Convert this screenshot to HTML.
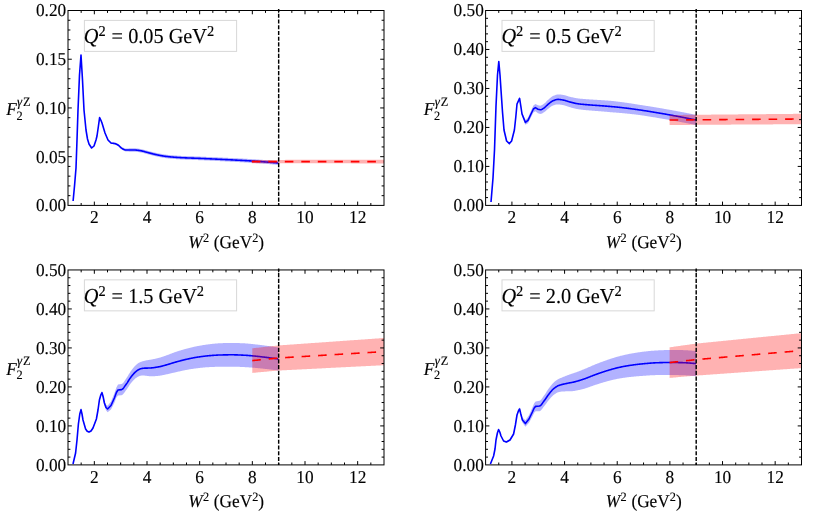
<!DOCTYPE html>
<html><head><meta charset="utf-8"><title>F2 gammaZ</title>
<style>html,body{margin:0;padding:0;background:#fff;}svg{display:block;}text{text-rendering:geometricPrecision;stroke:#000;stroke-width:0.14px;}.tx{filter:grayscale(1);}</style>
</head><body>
<svg width="830" height="517" viewBox="0 0 830 517" font-family="Liberation Serif, serif">
<rect width="830" height="517" fill="#fff"/>
<path d="M73.10,200.70 L74.60,184.68 L76.00,167.67 L77.00,139.66 L78.00,109.65 L79.50,74.63 L81.00,54.62 L82.50,79.60 L84.00,109.58 L85.00,119.57 L86.00,129.56 L87.50,138.54 L89.00,143.53 L91.60,147.50 L94.00,145.47 L96.00,139.45 L97.00,135.44 L98.30,126.43 L99.60,117.01 L100.80,119.40 L102.00,122.39 L105.00,132.35 L108.00,139.32 L111.00,142.25 L112.00,142.40 L112.50,142.44 L113.00,142.47 L113.50,142.49 L114.00,142.53 L114.50,142.57 L115.00,142.65 L115.50,142.77 L116.00,142.93 L116.50,143.14 L117.00,143.37 L117.50,143.63 L118.00,143.90 L118.50,144.22 L119.00,144.61 L119.50,145.06 L120.00,145.53 L120.50,145.99 L121.00,146.42 L121.50,146.80 L122.00,147.10 L122.50,147.35 L123.00,147.61 L123.50,147.85 L124.00,148.07 L124.50,148.26 L125.00,148.40 L125.50,148.49 L126.00,148.50 L126.50,148.47 L127.00,148.45 L127.50,148.43 L128.00,148.40 L128.50,148.38 L129.00,148.35 L129.50,148.32 L130.00,148.30 L130.50,148.30 L131.00,148.30 L131.50,148.30 L132.00,148.30 L132.50,148.30 L133.00,148.30 L133.50,148.30 L134.00,148.29 L134.50,148.30 L135.00,148.32 L135.50,148.35 L136.00,148.39 L136.50,148.43 L137.00,148.49 L137.50,148.55 L138.00,148.61 L138.50,148.68 L139.00,148.75 L139.50,148.82 L140.00,148.89 L140.50,148.96 L141.00,149.05 L141.50,149.15 L142.00,149.26 L142.50,149.38 L143.00,149.50 L143.50,149.63 L144.00,149.77 L144.50,149.91 L145.00,150.05 L145.50,150.20 L146.00,150.34 L146.50,150.48 L147.00,150.62 L147.50,150.75 L148.00,150.88 L148.50,151.00 L149.00,151.13 L149.50,151.26 L150.00,151.39 L150.50,151.52 L151.00,151.65 L151.50,151.78 L152.00,151.91 L152.50,152.04 L153.00,152.17 L153.50,152.29 L154.00,152.41 L154.50,152.53 L155.00,152.65 L155.50,152.76 L156.00,152.86 L156.50,152.97 L157.00,153.07 L157.50,153.18 L158.00,153.28 L158.50,153.38 L159.00,153.48 L159.50,153.58 L160.00,153.68 L160.50,153.78 L161.00,153.87 L161.50,153.97 L162.00,154.05 L162.50,154.14 L163.00,154.23 L163.50,154.31 L164.00,154.38 L164.50,154.46 L165.00,154.53 L165.50,154.59 L166.00,154.65 L166.50,154.71 L167.00,154.77 L167.50,154.82 L168.00,154.88 L168.50,154.93 L169.00,154.98 L169.50,155.03 L170.00,155.08 L170.50,155.13 L171.00,155.18 L171.50,155.22 L172.00,155.27 L172.50,155.31 L173.00,155.35 L173.50,155.39 L174.00,155.43 L174.50,155.47 L175.00,155.51 L175.50,155.55 L176.00,155.58 L176.50,155.62 L177.00,155.65 L177.50,155.68 L178.00,155.72 L178.50,155.75 L179.00,155.78 L179.50,155.80 L180.00,155.83 L180.50,155.86 L181.00,155.89 L181.50,155.91 L182.00,155.93 L182.50,155.96 L183.00,155.98 L183.50,156.00 L184.00,156.03 L184.50,156.05 L185.00,156.07 L185.50,156.09 L186.00,156.11 L186.50,156.13 L187.00,156.15 L187.50,156.16 L188.00,156.18 L188.50,156.20 L189.00,156.22 L189.50,156.23 L190.00,156.25 L190.50,156.27 L191.00,156.29 L191.50,156.30 L192.00,156.32 L192.50,156.34 L193.00,156.35 L193.50,156.37 L194.00,156.39 L194.50,156.40 L195.00,156.42 L195.50,156.44 L196.00,156.45 L196.50,156.47 L197.00,156.49 L197.50,156.51 L198.00,156.53 L198.50,156.55 L199.00,156.57 L199.50,156.59 L200.00,156.61 L200.50,156.63 L201.00,156.65 L201.50,156.67 L202.00,156.69 L202.50,156.71 L203.00,156.73 L203.50,156.75 L204.00,156.77 L204.50,156.79 L205.00,156.82 L205.50,156.84 L206.00,156.86 L206.50,156.88 L207.00,156.90 L207.50,156.92 L208.00,156.94 L208.50,156.97 L209.00,156.99 L209.50,157.01 L210.00,157.03 L210.50,157.05 L211.00,157.08 L211.50,157.10 L212.00,157.12 L212.50,157.14 L213.00,157.17 L213.50,157.19 L214.00,157.21 L214.50,157.23 L215.00,157.26 L215.50,157.28 L216.00,157.30 L216.50,157.32 L217.00,157.35 L217.50,157.37 L218.00,157.39 L218.50,157.42 L219.00,157.44 L219.50,157.46 L220.00,157.49 L220.50,157.51 L221.00,157.53 L221.50,157.56 L222.00,157.58 L222.50,157.60 L223.00,157.63 L223.50,157.65 L224.00,157.67 L224.50,157.70 L225.00,157.72 L225.50,157.75 L226.00,157.77 L226.50,157.79 L227.00,157.82 L227.50,157.84 L228.00,157.87 L228.50,157.89 L229.00,157.92 L229.50,157.94 L230.00,157.96 L230.50,157.99 L231.00,158.01 L231.50,158.04 L232.00,158.06 L232.50,158.09 L233.00,158.11 L233.50,158.13 L234.00,158.16 L234.50,158.18 L235.00,158.21 L235.50,158.23 L236.00,158.26 L236.50,158.28 L237.00,158.31 L237.50,158.33 L238.00,158.36 L238.50,158.38 L239.00,158.41 L239.50,158.44 L240.00,158.46 L240.50,158.49 L241.00,158.51 L241.50,158.54 L242.00,158.57 L242.50,158.59 L243.00,158.62 L243.50,158.65 L244.00,158.67 L244.50,158.70 L245.00,158.73 L245.50,158.76 L246.00,158.78 L246.50,158.81 L247.00,158.84 L247.50,158.87 L248.00,158.90 L248.50,158.93 L249.00,158.96 L249.50,158.98 L250.00,159.01 L250.50,159.04 L251.00,159.07 L251.50,159.10 L252.00,159.14 L252.50,159.17 L253.00,159.20 L253.50,159.23 L254.00,159.26 L254.50,159.29 L255.00,159.33 L255.50,159.36 L256.00,159.39 L256.50,159.42 L257.00,159.46 L257.50,159.49 L258.00,159.53 L258.50,159.56 L259.00,159.59 L259.50,159.63 L260.00,159.66 L260.50,159.70 L261.00,159.73 L261.50,159.77 L262.00,159.81 L262.50,159.84 L263.00,159.88 L263.50,159.92 L264.00,159.95 L264.50,159.99 L265.00,160.03 L265.50,160.06 L266.00,160.10 L266.50,160.14 L267.00,160.18 L267.50,160.22 L268.00,160.26 L268.50,160.30 L269.00,160.33 L269.50,160.37 L270.00,160.41 L270.50,160.45 L271.00,160.49 L271.50,160.53 L272.00,160.57 L272.50,160.61 L273.00,160.66 L273.50,160.70 L274.00,160.74 L274.50,160.78 L275.00,160.82 L275.50,160.86 L276.00,160.90 L276.50,160.95 L277.00,160.99 L277.50,161.03 L278.00,161.07 L278.30,161.10 L278.30,164.90 L278.00,164.87 L277.50,164.83 L277.00,164.79 L276.50,164.74 L276.00,164.70 L275.50,164.65 L275.00,164.61 L274.50,164.57 L274.00,164.53 L273.50,164.48 L273.00,164.44 L272.50,164.40 L272.00,164.36 L271.50,164.32 L271.00,164.27 L270.50,164.23 L270.00,164.19 L269.50,164.15 L269.00,164.11 L268.50,164.07 L268.00,164.03 L267.50,163.99 L267.00,163.95 L266.50,163.91 L266.00,163.87 L265.50,163.83 L265.00,163.79 L264.50,163.75 L264.00,163.71 L263.50,163.68 L263.00,163.64 L262.50,163.60 L262.00,163.56 L261.50,163.52 L261.00,163.49 L260.50,163.45 L260.00,163.41 L259.50,163.38 L259.00,163.34 L258.50,163.31 L258.00,163.27 L257.50,163.24 L257.00,163.20 L256.50,163.17 L256.00,163.13 L255.50,163.10 L255.00,163.06 L254.50,163.03 L254.00,163.00 L253.50,162.96 L253.00,162.93 L252.50,162.90 L252.00,162.86 L251.50,162.83 L251.00,162.80 L250.50,162.77 L250.00,162.74 L249.50,162.71 L249.00,162.68 L248.50,162.65 L248.00,162.62 L247.50,162.59 L247.00,162.56 L246.50,162.53 L246.00,162.50 L245.50,162.47 L245.00,162.44 L244.50,162.41 L244.00,162.38 L243.50,162.35 L243.00,162.32 L242.50,162.30 L242.00,162.27 L241.50,162.24 L241.00,162.21 L240.50,162.19 L240.00,162.16 L239.50,162.13 L239.00,162.10 L238.50,162.08 L238.00,162.05 L237.50,162.02 L237.00,162.00 L236.50,161.97 L236.00,161.94 L235.50,161.92 L235.00,161.89 L234.50,161.87 L234.00,161.84 L233.50,161.81 L233.00,161.79 L232.50,161.76 L232.00,161.74 L231.50,161.71 L231.00,161.68 L230.50,161.66 L230.00,161.63 L229.50,161.61 L229.00,161.58 L228.50,161.56 L228.00,161.53 L227.50,161.51 L227.00,161.48 L226.50,161.45 L226.00,161.43 L225.50,161.40 L225.00,161.38 L224.50,161.35 L224.00,161.33 L223.50,161.30 L223.00,161.28 L222.50,161.25 L222.00,161.23 L221.50,161.20 L221.00,161.18 L220.50,161.15 L220.00,161.13 L219.50,161.10 L219.00,161.08 L218.50,161.05 L218.00,161.03 L217.50,161.01 L217.00,160.98 L216.50,160.96 L216.00,160.93 L215.50,160.91 L215.00,160.88 L214.50,160.86 L214.00,160.84 L213.50,160.81 L213.00,160.79 L212.50,160.77 L212.00,160.74 L211.50,160.72 L211.00,160.69 L210.50,160.67 L210.00,160.65 L209.50,160.62 L209.00,160.60 L208.50,160.58 L208.00,160.56 L207.50,160.53 L207.00,160.51 L206.50,160.49 L206.00,160.46 L205.50,160.44 L205.00,160.42 L204.50,160.40 L204.00,160.37 L203.50,160.35 L203.00,160.33 L202.50,160.31 L202.00,160.28 L201.50,160.26 L201.00,160.24 L200.50,160.22 L200.00,160.19 L199.50,160.17 L199.00,160.15 L198.50,160.13 L198.00,160.11 L197.50,160.09 L197.00,160.07 L196.50,160.05 L196.00,160.03 L195.50,160.01 L195.00,159.99 L194.50,159.98 L194.00,159.96 L193.50,159.94 L193.00,159.92 L192.50,159.90 L192.00,159.89 L191.50,159.87 L191.00,159.85 L190.50,159.83 L190.00,159.81 L189.50,159.79 L189.00,159.78 L188.50,159.76 L188.00,159.74 L187.50,159.72 L187.00,159.70 L186.50,159.68 L186.00,159.66 L185.50,159.64 L185.00,159.62 L184.50,159.59 L184.00,159.57 L183.50,159.55 L183.00,159.52 L182.50,159.50 L182.00,159.48 L181.50,159.45 L181.00,159.42 L180.50,159.40 L180.00,159.37 L179.50,159.34 L179.00,159.31 L178.50,159.28 L178.00,159.25 L177.50,159.21 L177.00,159.18 L176.50,159.14 L176.00,159.11 L175.50,159.07 L175.00,159.03 L174.50,158.99 L174.00,158.95 L173.50,158.91 L173.00,158.87 L172.50,158.82 L172.00,158.78 L171.50,158.73 L171.00,158.69 L170.50,158.64 L170.00,158.59 L169.50,158.54 L169.00,158.49 L168.50,158.43 L168.00,158.38 L167.50,158.32 L167.00,158.27 L166.50,158.21 L166.00,158.15 L165.50,158.09 L165.00,158.02 L164.50,157.95 L164.00,157.87 L163.50,157.80 L163.00,157.71 L162.50,157.63 L162.00,157.54 L161.50,157.45 L161.00,157.36 L160.50,157.26 L160.00,157.16 L159.50,157.06 L159.00,156.96 L158.50,156.86 L158.00,156.76 L157.50,156.65 L157.00,156.55 L156.50,156.44 L156.00,156.34 L155.50,156.23 L155.00,156.11 L154.50,156.00 L154.00,155.88 L153.50,155.75 L153.00,155.63 L152.50,155.50 L152.00,155.37 L151.50,155.24 L151.00,155.11 L150.50,154.97 L150.00,154.84 L149.50,154.71 L149.00,154.58 L148.50,154.45 L148.00,154.32 L147.50,154.20 L147.00,154.06 L146.50,153.92 L146.00,153.78 L145.50,153.64 L145.00,153.49 L144.50,153.35 L144.00,153.21 L143.50,153.07 L143.00,152.94 L142.50,152.81 L142.00,152.69 L141.50,152.58 L141.00,152.48 L140.50,152.39 L140.00,152.31 L139.50,152.24 L139.00,152.17 L138.50,152.10 L138.00,152.03 L137.50,151.97 L137.00,151.90 L136.50,151.85 L136.00,151.80 L135.50,151.76 L135.00,151.73 L134.50,151.71 L134.00,151.71 L133.50,151.70 L133.00,151.70 L132.50,151.70 L132.00,151.70 L131.50,151.70 L131.00,151.70 L130.50,151.70 L130.00,151.70 L129.50,151.68 L129.00,151.65 L128.50,151.62 L128.00,151.60 L127.50,151.57 L127.00,151.55 L126.50,151.53 L126.00,151.50 L125.50,151.44 L125.00,151.30 L124.50,151.11 L124.00,150.87 L123.50,150.60 L123.00,150.31 L122.50,150.00 L122.00,149.70 L121.50,149.35 L121.00,148.92 L120.50,148.44 L120.00,147.93 L119.50,147.41 L119.00,146.91 L118.50,146.47 L118.00,146.10 L117.50,145.78 L117.00,145.47 L116.50,145.19 L116.00,144.93 L115.50,144.72 L115.00,144.55 L114.50,144.42 L114.00,144.33 L113.50,144.24 L113.00,144.17 L112.50,144.09 L112.00,144.00 L111.00,143.75 L108.00,140.68 L105.00,133.65 L102.00,123.61 L100.80,120.60 L99.60,118.19 L98.30,127.57 L97.00,136.56 L96.00,140.55 L94.00,146.53 L91.60,148.50 L89.00,144.47 L87.50,139.46 L86.00,130.44 L85.00,120.43 L84.00,110.42 L82.50,80.40 L81.00,55.38 L79.50,75.37 L78.00,110.35 L77.00,140.34 L76.00,168.33 L74.60,185.32 L73.10,201.30Z" fill="#0000ff" fill-opacity="0.3"/>
<path d="M73.10,201.00 L74.60,185.00 L76.00,168.00 L77.00,140.00 L78.00,110.00 L79.50,75.00 L81.00,55.00 L82.50,80.00 L84.00,110.00 L85.00,120.00 L86.00,130.00 L87.50,139.00 L89.00,144.00 L91.60,148.00 L94.00,146.00 L96.00,140.00 L97.00,136.00 L98.30,127.00 L99.60,117.60 L100.80,120.00 L102.00,123.00 L105.00,133.00 L108.00,140.00 L111.00,143.00 L112.00,143.20 L112.50,143.27 L113.00,143.32 L113.50,143.37 L114.00,143.43 L114.50,143.50 L115.00,143.60 L115.50,143.74 L116.00,143.93 L116.50,144.16 L117.00,144.42 L117.50,144.71 L118.00,145.00 L118.50,145.34 L119.00,145.76 L119.50,146.23 L120.00,146.73 L120.50,147.21 L121.00,147.67 L121.50,148.08 L122.00,148.40 L122.50,148.68 L123.00,148.96 L123.50,149.22 L124.00,149.47 L124.50,149.68 L125.00,149.85 L125.50,149.96 L126.00,150.00 L126.50,150.00 L127.00,150.00 L127.50,150.00 L128.00,150.00 L128.50,150.00 L129.00,150.00 L129.50,150.00 L130.00,150.00 L130.50,150.00 L131.00,150.00 L131.50,150.00 L132.00,150.00 L132.50,150.00 L133.00,150.00 L133.50,150.00 L134.00,150.00 L134.50,150.01 L135.00,150.03 L135.50,150.05 L136.00,150.09 L136.50,150.14 L137.00,150.20 L137.50,150.26 L138.00,150.32 L138.50,150.39 L139.00,150.46 L139.50,150.53 L140.00,150.60 L140.50,150.68 L141.00,150.77 L141.50,150.87 L142.00,150.98 L142.50,151.10 L143.00,151.22 L143.50,151.35 L144.00,151.49 L144.50,151.63 L145.00,151.77 L145.50,151.92 L146.00,152.06 L146.50,152.20 L147.00,152.34 L147.50,152.47 L148.00,152.60 L148.50,152.73 L149.00,152.85 L149.50,152.98 L150.00,153.11 L150.50,153.25 L151.00,153.38 L151.50,153.51 L152.00,153.64 L152.50,153.77 L153.00,153.90 L153.50,154.02 L154.00,154.14 L154.50,154.26 L155.00,154.38 L155.50,154.49 L156.00,154.60 L156.50,154.71 L157.00,154.81 L157.50,154.91 L158.00,155.02 L158.50,155.12 L159.00,155.22 L159.50,155.32 L160.00,155.42 L160.50,155.52 L161.00,155.62 L161.50,155.71 L162.00,155.80 L162.50,155.89 L163.00,155.97 L163.50,156.05 L164.00,156.13 L164.50,156.20 L165.00,156.27 L165.50,156.34 L166.00,156.40 L166.50,156.46 L167.00,156.52 L167.50,156.57 L168.00,156.63 L168.50,156.68 L169.00,156.73 L169.50,156.78 L170.00,156.83 L170.50,156.88 L171.00,156.93 L171.50,156.98 L172.00,157.02 L172.50,157.07 L173.00,157.11 L173.50,157.15 L174.00,157.19 L174.50,157.23 L175.00,157.27 L175.50,157.31 L176.00,157.35 L176.50,157.38 L177.00,157.41 L177.50,157.45 L178.00,157.48 L178.50,157.51 L179.00,157.54 L179.50,157.57 L180.00,157.60 L180.50,157.63 L181.00,157.65 L181.50,157.68 L182.00,157.71 L182.50,157.73 L183.00,157.75 L183.50,157.78 L184.00,157.80 L184.50,157.82 L185.00,157.84 L185.50,157.86 L186.00,157.88 L186.50,157.90 L187.00,157.92 L187.50,157.94 L188.00,157.96 L188.50,157.98 L189.00,158.00 L189.50,158.01 L190.00,158.03 L190.50,158.05 L191.00,158.07 L191.50,158.09 L192.00,158.10 L192.50,158.12 L193.00,158.14 L193.50,158.15 L194.00,158.17 L194.50,158.19 L195.00,158.21 L195.50,158.22 L196.00,158.24 L196.50,158.26 L197.00,158.28 L197.50,158.30 L198.00,158.32 L198.50,158.34 L199.00,158.36 L199.50,158.38 L200.00,158.40 L200.50,158.42 L201.00,158.44 L201.50,158.46 L202.00,158.49 L202.50,158.51 L203.00,158.53 L203.50,158.55 L204.00,158.57 L204.50,158.59 L205.00,158.62 L205.50,158.64 L206.00,158.66 L206.50,158.68 L207.00,158.71 L207.50,158.73 L208.00,158.75 L208.50,158.77 L209.00,158.79 L209.50,158.82 L210.00,158.84 L210.50,158.86 L211.00,158.89 L211.50,158.91 L212.00,158.93 L212.50,158.95 L213.00,158.98 L213.50,159.00 L214.00,159.02 L214.50,159.05 L215.00,159.07 L215.50,159.09 L216.00,159.12 L216.50,159.14 L217.00,159.16 L217.50,159.19 L218.00,159.21 L218.50,159.24 L219.00,159.26 L219.50,159.28 L220.00,159.31 L220.50,159.33 L221.00,159.35 L221.50,159.38 L222.00,159.40 L222.50,159.43 L223.00,159.45 L223.50,159.48 L224.00,159.50 L224.50,159.53 L225.00,159.55 L225.50,159.58 L226.00,159.60 L226.50,159.62 L227.00,159.65 L227.50,159.67 L228.00,159.70 L228.50,159.72 L229.00,159.75 L229.50,159.77 L230.00,159.80 L230.50,159.82 L231.00,159.85 L231.50,159.87 L232.00,159.90 L232.50,159.92 L233.00,159.95 L233.50,159.97 L234.00,160.00 L234.50,160.02 L235.00,160.05 L235.50,160.08 L236.00,160.10 L236.50,160.13 L237.00,160.15 L237.50,160.18 L238.00,160.20 L238.50,160.23 L239.00,160.26 L239.50,160.28 L240.00,160.31 L240.50,160.34 L241.00,160.36 L241.50,160.39 L242.00,160.42 L242.50,160.44 L243.00,160.47 L243.50,160.50 L244.00,160.53 L244.50,160.55 L245.00,160.58 L245.50,160.61 L246.00,160.64 L246.50,160.67 L247.00,160.70 L247.50,160.73 L248.00,160.76 L248.50,160.79 L249.00,160.82 L249.50,160.85 L250.00,160.88 L250.50,160.91 L251.00,160.94 L251.50,160.97 L252.00,161.00 L252.50,161.03 L253.00,161.06 L253.50,161.10 L254.00,161.13 L254.50,161.16 L255.00,161.19 L255.50,161.23 L256.00,161.26 L256.50,161.29 L257.00,161.33 L257.50,161.36 L258.00,161.40 L258.50,161.43 L259.00,161.47 L259.50,161.50 L260.00,161.54 L260.50,161.57 L261.00,161.61 L261.50,161.65 L262.00,161.68 L262.50,161.72 L263.00,161.76 L263.50,161.80 L264.00,161.83 L264.50,161.87 L265.00,161.91 L265.50,161.95 L266.00,161.99 L266.50,162.02 L267.00,162.06 L267.50,162.10 L268.00,162.14 L268.50,162.18 L269.00,162.22 L269.50,162.26 L270.00,162.30 L270.50,162.34 L271.00,162.38 L271.50,162.42 L272.00,162.47 L272.50,162.51 L273.00,162.55 L273.50,162.59 L274.00,162.63 L274.50,162.67 L275.00,162.72 L275.50,162.76 L276.00,162.80 L276.50,162.84 L277.00,162.89 L277.50,162.93 L278.00,162.97 L278.30,163.00" fill="none" stroke="#0000ff" stroke-width="1.6" stroke-linejoin="round" stroke-linecap="butt"/>
<path d="M251.80,159.90 L252.80,159.90 L253.80,159.90 L254.80,159.90 L255.80,159.90 L256.80,159.90 L257.80,159.90 L258.80,159.89 L259.80,159.89 L260.80,159.89 L261.80,159.89 L262.80,159.89 L263.80,159.89 L264.80,159.89 L265.80,159.89 L266.80,159.89 L267.80,159.89 L268.80,159.89 L269.80,159.89 L270.80,159.89 L271.80,159.88 L272.80,159.88 L273.80,159.88 L274.80,159.88 L275.80,159.88 L276.80,159.88 L277.80,159.88 L278.80,159.88 L279.80,159.88 L280.80,159.88 L281.80,159.88 L282.80,159.88 L283.80,159.88 L284.80,159.88 L285.80,159.87 L286.80,159.87 L287.80,159.87 L288.80,159.87 L289.80,159.87 L290.80,159.87 L291.80,159.87 L292.80,159.87 L293.80,159.87 L294.80,159.87 L295.80,159.87 L296.80,159.87 L297.80,159.87 L298.80,159.86 L299.80,159.86 L300.80,159.86 L301.80,159.86 L302.80,159.86 L303.80,159.86 L304.80,159.86 L305.80,159.86 L306.80,159.86 L307.80,159.86 L308.80,159.86 L309.80,159.86 L310.80,159.86 L311.80,159.85 L312.80,159.85 L313.80,159.85 L314.80,159.85 L315.80,159.85 L316.80,159.85 L317.80,159.85 L318.80,159.85 L319.80,159.85 L320.80,159.85 L321.80,159.85 L322.80,159.85 L323.80,159.85 L324.80,159.84 L325.80,159.84 L326.80,159.84 L327.80,159.84 L328.80,159.84 L329.80,159.84 L330.80,159.84 L331.80,159.84 L332.80,159.84 L333.80,159.84 L334.80,159.84 L335.80,159.84 L336.80,159.84 L337.80,159.83 L338.80,159.83 L339.80,159.83 L340.80,159.83 L341.80,159.83 L342.80,159.83 L343.80,159.83 L344.80,159.83 L345.80,159.83 L346.80,159.83 L347.80,159.83 L348.80,159.83 L349.80,159.83 L350.80,159.83 L351.80,159.82 L352.80,159.82 L353.80,159.82 L354.80,159.82 L355.80,159.82 L356.80,159.82 L357.80,159.82 L358.80,159.82 L359.80,159.82 L360.80,159.82 L361.80,159.82 L362.80,159.82 L363.80,159.82 L364.80,159.81 L365.80,159.81 L366.80,159.81 L367.80,159.81 L368.80,159.81 L369.80,159.81 L370.80,159.81 L371.80,159.81 L372.80,159.81 L373.80,159.81 L374.80,159.81 L375.80,159.81 L376.80,159.81 L377.80,159.80 L378.80,159.80 L379.80,159.80 L380.80,159.80 L381.80,159.80 L382.80,159.80 L383.80,159.80 L384.00,159.80 L384.00,163.40 L383.80,163.40 L382.80,163.40 L381.80,163.40 L380.80,163.40 L379.80,163.40 L378.80,163.40 L377.80,163.40 L376.80,163.39 L375.80,163.39 L374.80,163.39 L373.80,163.39 L372.80,163.39 L371.80,163.39 L370.80,163.39 L369.80,163.39 L368.80,163.39 L367.80,163.39 L366.80,163.39 L365.80,163.39 L364.80,163.39 L363.80,163.38 L362.80,163.38 L361.80,163.38 L360.80,163.38 L359.80,163.38 L358.80,163.38 L357.80,163.38 L356.80,163.38 L355.80,163.38 L354.80,163.38 L353.80,163.38 L352.80,163.38 L351.80,163.38 L350.80,163.37 L349.80,163.37 L348.80,163.37 L347.80,163.37 L346.80,163.37 L345.80,163.37 L344.80,163.37 L343.80,163.37 L342.80,163.37 L341.80,163.37 L340.80,163.37 L339.80,163.37 L338.80,163.37 L337.80,163.37 L336.80,163.36 L335.80,163.36 L334.80,163.36 L333.80,163.36 L332.80,163.36 L331.80,163.36 L330.80,163.36 L329.80,163.36 L328.80,163.36 L327.80,163.36 L326.80,163.36 L325.80,163.36 L324.80,163.36 L323.80,163.35 L322.80,163.35 L321.80,163.35 L320.80,163.35 L319.80,163.35 L318.80,163.35 L317.80,163.35 L316.80,163.35 L315.80,163.35 L314.80,163.35 L313.80,163.35 L312.80,163.35 L311.80,163.35 L310.80,163.34 L309.80,163.34 L308.80,163.34 L307.80,163.34 L306.80,163.34 L305.80,163.34 L304.80,163.34 L303.80,163.34 L302.80,163.34 L301.80,163.34 L300.80,163.34 L299.80,163.34 L298.80,163.34 L297.80,163.33 L296.80,163.33 L295.80,163.33 L294.80,163.33 L293.80,163.33 L292.80,163.33 L291.80,163.33 L290.80,163.33 L289.80,163.33 L288.80,163.33 L287.80,163.33 L286.80,163.33 L285.80,163.33 L284.80,163.32 L283.80,163.32 L282.80,163.32 L281.80,163.32 L280.80,163.32 L279.80,163.32 L278.80,163.32 L277.80,163.32 L276.80,163.32 L275.80,163.32 L274.80,163.32 L273.80,163.32 L272.80,163.32 L271.80,163.32 L270.80,163.31 L269.80,163.31 L268.80,163.31 L267.80,163.31 L266.80,163.31 L265.80,163.31 L264.80,163.31 L263.80,163.31 L262.80,163.31 L261.80,163.31 L260.80,163.31 L259.80,163.31 L258.80,163.31 L257.80,163.30 L256.80,163.30 L255.80,163.30 L254.80,163.30 L253.80,163.30 L252.80,163.30 L251.80,163.30Z" fill="#ff0000" fill-opacity="0.3"/>
<path d="M251.80,161.60 L252.80,161.60 L253.80,161.60 L254.80,161.60 L255.80,161.60 L256.80,161.60 L257.80,161.60 L258.80,161.60 L259.80,161.60 L260.80,161.60 L261.80,161.60 L262.80,161.60 L263.80,161.60 L264.80,161.60 L265.80,161.60 L266.80,161.60 L267.80,161.60 L268.80,161.60 L269.80,161.60 L270.80,161.60 L271.80,161.60 L272.80,161.60 L273.80,161.60 L274.80,161.60 L275.80,161.60 L276.80,161.60 L277.80,161.60 L278.80,161.60 L279.80,161.60 L280.80,161.60 L281.80,161.60 L282.80,161.60 L283.80,161.60 L284.80,161.60 L285.80,161.60 L286.80,161.60 L287.80,161.60 L288.80,161.60 L289.80,161.60 L290.80,161.60 L291.80,161.60 L292.80,161.60 L293.80,161.60 L294.80,161.60 L295.80,161.60 L296.80,161.60 L297.80,161.60 L298.80,161.60 L299.80,161.60 L300.80,161.60 L301.80,161.60 L302.80,161.60 L303.80,161.60 L304.80,161.60 L305.80,161.60 L306.80,161.60 L307.80,161.60 L308.80,161.60 L309.80,161.60 L310.80,161.60 L311.80,161.60 L312.80,161.60 L313.80,161.60 L314.80,161.60 L315.80,161.60 L316.80,161.60 L317.80,161.60 L318.80,161.60 L319.80,161.60 L320.80,161.60 L321.80,161.60 L322.80,161.60 L323.80,161.60 L324.80,161.60 L325.80,161.60 L326.80,161.60 L327.80,161.60 L328.80,161.60 L329.80,161.60 L330.80,161.60 L331.80,161.60 L332.80,161.60 L333.80,161.60 L334.80,161.60 L335.80,161.60 L336.80,161.60 L337.80,161.60 L338.80,161.60 L339.80,161.60 L340.80,161.60 L341.80,161.60 L342.80,161.60 L343.80,161.60 L344.80,161.60 L345.80,161.60 L346.80,161.60 L347.80,161.60 L348.80,161.60 L349.80,161.60 L350.80,161.60 L351.80,161.60 L352.80,161.60 L353.80,161.60 L354.80,161.60 L355.80,161.60 L356.80,161.60 L357.80,161.60 L358.80,161.60 L359.80,161.60 L360.80,161.60 L361.80,161.60 L362.80,161.60 L363.80,161.60 L364.80,161.60 L365.80,161.60 L366.80,161.60 L367.80,161.60 L368.80,161.60 L369.80,161.60 L370.80,161.60 L371.80,161.60 L372.80,161.60 L373.80,161.60 L374.80,161.60 L375.80,161.60 L376.80,161.60 L377.80,161.60 L378.80,161.60 L379.80,161.60 L380.80,161.60 L381.80,161.60 L382.80,161.60 L383.80,161.60 L384.00,161.60" fill="none" stroke="#ff0000" stroke-width="1.6" stroke-dasharray="8.6,7.9"/>
<line x1="278.67" y1="9.10" x2="278.67" y2="205.4" stroke="#000" stroke-width="1.45" stroke-dasharray="4.15,1.595" stroke-dashoffset="1.2"/>
<path d="M81.17,205.4v-2.4 M81.17,10.5v2.4 M94.33,205.4v-3.8 M94.33,10.5v3.8 M107.50,205.4v-2.4 M107.50,10.5v2.4 M120.67,205.4v-2.4 M120.67,10.5v2.4 M133.83,205.4v-2.4 M133.83,10.5v2.4 M147.00,205.4v-3.8 M147.00,10.5v3.8 M160.17,205.4v-2.4 M160.17,10.5v2.4 M173.33,205.4v-2.4 M173.33,10.5v2.4 M186.50,205.4v-2.4 M186.50,10.5v2.4 M199.67,205.4v-3.8 M199.67,10.5v3.8 M212.83,205.4v-2.4 M212.83,10.5v2.4 M226.00,205.4v-2.4 M226.00,10.5v2.4 M239.17,205.4v-2.4 M239.17,10.5v2.4 M252.33,205.4v-3.8 M252.33,10.5v3.8 M265.50,205.4v-2.4 M265.50,10.5v2.4 M278.67,205.4v-2.4 M278.67,10.5v2.4 M291.83,205.4v-2.4 M291.83,10.5v2.4 M305.00,205.4v-3.8 M305.00,10.5v3.8 M318.17,205.4v-2.4 M318.17,10.5v2.4 M331.33,205.4v-2.4 M331.33,10.5v2.4 M344.50,205.4v-2.4 M344.50,10.5v2.4 M357.67,205.4v-3.8 M357.67,10.5v3.8 M370.83,205.4v-2.4 M370.83,10.5v2.4 M68.0,195.66h2.4 M384.0,195.66h-2.4 M68.0,185.91h2.4 M384.0,185.91h-2.4 M68.0,176.17h2.4 M384.0,176.17h-2.4 M68.0,166.42h2.4 M384.0,166.42h-2.4 M68.0,156.68h3.8 M384.0,156.68h-3.8 M68.0,146.93h2.4 M384.0,146.93h-2.4 M68.0,137.19h2.4 M384.0,137.19h-2.4 M68.0,127.44h2.4 M384.0,127.44h-2.4 M68.0,117.70h2.4 M384.0,117.70h-2.4 M68.0,107.95h3.8 M384.0,107.95h-3.8 M68.0,98.21h2.4 M384.0,98.21h-2.4 M68.0,88.46h2.4 M384.0,88.46h-2.4 M68.0,78.72h2.4 M384.0,78.72h-2.4 M68.0,68.97h2.4 M384.0,68.97h-2.4 M68.0,59.23h3.8 M384.0,59.23h-3.8 M68.0,49.48h2.4 M384.0,49.48h-2.4 M68.0,39.74h2.4 M384.0,39.74h-2.4 M68.0,29.99h2.4 M384.0,29.99h-2.4 M68.0,20.25h2.4 M384.0,20.25h-2.4" stroke="#000" stroke-width="1" fill="none"/>
<rect x="68.0" y="10.5" width="316.0" height="194.9" fill="none" stroke="#000" stroke-width="1"/>
<rect x="84.40" y="20.40" width="152.2" height="31.0" fill="#fff" stroke="#d8d8d8" stroke-width="1"/>
<path d="M491.00,201.70 L493.00,177.65 L494.50,149.61 L496.00,105.58 L497.50,74.54 L498.80,61.11 L500.00,74.47 L501.00,89.45 L502.50,111.41 L504.00,129.38 L506.60,140.31 L509.40,142.84 L511.60,140.19 L514.40,129.12 L515.80,115.98 L517.00,102.80 L519.60,96.81 L520.80,104.23 L522.00,112.05 L525.40,119.95 L528.00,117.63 L531.00,110.86 L533.40,105.57 L535.40,103.92 L538.00,105.20 L540.40,105.68 L541.00,105.57 L541.50,105.37 L542.00,105.10 L542.50,104.78 L543.00,104.42 L543.50,104.06 L544.00,103.70 L544.50,103.32 L545.00,102.88 L545.50,102.39 L546.00,101.88 L546.50,101.36 L547.00,100.84 L547.50,100.35 L548.00,99.90 L548.50,99.47 L549.00,99.03 L549.50,98.58 L550.00,98.15 L550.50,97.72 L551.00,97.32 L551.50,96.95 L552.00,96.60 L552.50,96.30 L553.00,96.05 L553.50,95.82 L554.00,95.60 L554.50,95.38 L555.00,95.17 L555.50,94.97 L556.00,94.80 L556.50,94.65 L557.00,94.53 L557.50,94.45 L558.00,94.40 L558.50,94.40 L559.00,94.42 L559.50,94.45 L560.00,94.49 L560.50,94.55 L561.00,94.61 L561.50,94.68 L562.00,94.76 L562.50,94.83 L563.00,94.91 L563.50,94.99 L564.00,95.09 L564.50,95.21 L565.00,95.33 L565.50,95.47 L566.00,95.62 L566.50,95.77 L567.00,95.92 L567.50,96.08 L568.00,96.23 L568.50,96.38 L569.00,96.52 L569.50,96.65 L570.00,96.78 L570.50,96.90 L571.00,97.01 L571.50,97.13 L572.00,97.25 L572.50,97.37 L573.00,97.49 L573.50,97.60 L574.00,97.72 L574.50,97.82 L575.00,97.93 L575.50,98.03 L576.00,98.12 L576.50,98.21 L577.00,98.29 L577.50,98.36 L578.00,98.43 L578.50,98.49 L579.00,98.55 L579.50,98.60 L580.00,98.65 L580.50,98.70 L581.00,98.74 L581.50,98.79 L582.00,98.83 L582.50,98.87 L583.00,98.91 L583.50,98.94 L584.00,98.98 L584.50,99.01 L585.00,99.05 L585.50,99.09 L586.00,99.13 L586.50,99.16 L587.00,99.20 L587.50,99.24 L588.00,99.28 L588.50,99.32 L589.00,99.35 L589.50,99.39 L590.00,99.42 L590.50,99.46 L591.00,99.49 L591.50,99.52 L592.00,99.55 L592.50,99.59 L593.00,99.62 L593.50,99.65 L594.00,99.68 L594.50,99.71 L595.00,99.74 L595.50,99.77 L596.00,99.79 L596.50,99.82 L597.00,99.85 L597.50,99.88 L598.00,99.91 L598.50,99.94 L599.00,99.98 L599.50,100.01 L600.00,100.04 L600.50,100.07 L601.00,100.10 L601.50,100.14 L602.00,100.17 L602.50,100.21 L603.00,100.25 L603.50,100.28 L604.00,100.32 L604.50,100.35 L605.00,100.39 L605.50,100.43 L606.00,100.46 L606.50,100.50 L607.00,100.54 L607.50,100.58 L608.00,100.61 L608.50,100.65 L609.00,100.69 L609.50,100.73 L610.00,100.77 L610.50,100.81 L611.00,100.85 L611.50,100.89 L612.00,100.93 L612.50,100.99 L613.00,101.04 L613.50,101.10 L614.00,101.16 L614.50,101.21 L615.00,101.27 L615.50,101.33 L616.00,101.39 L616.50,101.45 L617.00,101.51 L617.50,101.57 L618.00,101.63 L618.50,101.69 L619.00,101.75 L619.50,101.82 L620.00,101.88 L620.50,101.94 L621.00,102.01 L621.50,102.08 L622.00,102.14 L622.50,102.21 L623.00,102.28 L623.50,102.35 L624.00,102.42 L624.50,102.49 L625.00,102.56 L625.50,102.63 L626.00,102.70 L626.50,102.77 L627.00,102.84 L627.50,102.92 L628.00,102.99 L628.50,103.06 L629.00,103.14 L629.50,103.21 L630.00,103.29 L630.50,103.36 L631.00,103.44 L631.50,103.51 L632.00,103.59 L632.50,103.67 L633.00,103.75 L633.50,103.83 L634.00,103.91 L634.50,103.99 L635.00,104.07 L635.50,104.15 L636.00,104.23 L636.50,104.31 L637.00,104.39 L637.50,104.48 L638.00,104.56 L638.50,104.64 L639.00,104.73 L639.50,104.81 L640.00,104.90 L640.50,104.97 L641.00,105.05 L641.50,105.12 L642.00,105.20 L642.50,105.27 L643.00,105.35 L643.50,105.42 L644.00,105.50 L644.50,105.58 L645.00,105.65 L645.50,105.73 L646.00,105.81 L646.50,105.88 L647.00,105.96 L647.50,106.04 L648.00,106.12 L648.50,106.20 L649.00,106.28 L649.50,106.36 L650.00,106.44 L650.50,106.52 L651.00,106.60 L651.50,106.68 L652.00,106.76 L652.50,106.84 L653.00,106.93 L653.50,107.01 L654.00,107.09 L654.50,107.17 L655.00,107.26 L655.50,107.34 L656.00,107.42 L656.50,107.51 L657.00,107.59 L657.50,107.68 L658.00,107.76 L658.50,107.85 L659.00,107.93 L659.50,108.01 L660.00,108.10 L660.50,108.19 L661.00,108.27 L661.50,108.36 L662.00,108.44 L662.50,108.53 L663.00,108.62 L663.50,108.70 L664.00,108.79 L664.50,108.88 L665.00,108.96 L665.50,109.05 L666.00,109.14 L666.50,109.23 L667.00,109.32 L667.50,109.40 L668.00,109.49 L668.50,109.58 L669.00,109.67 L669.50,109.76 L670.00,109.85 L670.50,109.94 L671.00,110.03 L671.50,110.12 L672.00,110.21 L672.50,110.30 L673.00,110.40 L673.50,110.49 L674.00,110.58 L674.50,110.67 L675.00,110.76 L675.50,110.86 L676.00,110.95 L676.50,111.04 L677.00,111.14 L677.50,111.23 L678.00,111.32 L678.50,111.42 L679.00,111.51 L679.50,111.61 L680.00,111.70 L680.50,111.80 L681.00,111.89 L681.50,111.99 L682.00,112.08 L682.50,112.18 L683.00,112.28 L683.50,112.37 L684.00,112.47 L684.50,112.57 L685.00,112.67 L685.50,112.76 L686.00,112.86 L686.50,112.96 L687.00,113.06 L687.50,113.16 L688.00,113.26 L688.50,113.36 L689.00,113.46 L689.50,113.56 L690.00,113.66 L690.50,113.77 L691.00,113.87 L691.50,113.97 L692.00,114.07 L692.50,114.17 L693.00,114.28 L693.50,114.38 L694.00,114.48 L694.50,114.59 L695.00,114.69 L695.50,114.80 L696.00,114.90 L696.00,125.10 L695.50,125.00 L695.00,124.89 L694.50,124.79 L694.00,124.68 L693.50,124.58 L693.00,124.48 L692.50,124.37 L692.00,124.27 L691.50,124.17 L691.00,124.07 L690.50,123.97 L690.00,123.86 L689.50,123.76 L689.00,123.66 L688.50,123.56 L688.00,123.46 L687.50,123.36 L687.00,123.26 L686.50,123.16 L686.00,123.06 L685.50,122.96 L685.00,122.87 L684.50,122.77 L684.00,122.67 L683.50,122.57 L683.00,122.48 L682.50,122.38 L682.00,122.28 L681.50,122.19 L681.00,122.09 L680.50,122.00 L680.00,121.90 L679.50,121.81 L679.00,121.71 L678.50,121.62 L678.00,121.52 L677.50,121.43 L677.00,121.34 L676.50,121.24 L676.00,121.15 L675.50,121.06 L675.00,120.96 L674.50,120.87 L674.00,120.78 L673.50,120.69 L673.00,120.60 L672.50,120.50 L672.00,120.41 L671.50,120.32 L671.00,120.23 L670.50,120.14 L670.00,120.05 L669.50,119.96 L669.00,119.87 L668.50,119.78 L668.00,119.69 L667.50,119.60 L667.00,119.52 L666.50,119.43 L666.00,119.34 L665.50,119.25 L665.00,119.16 L664.50,119.08 L664.00,118.99 L663.50,118.90 L663.00,118.82 L662.50,118.73 L662.00,118.64 L661.50,118.56 L661.00,118.47 L660.50,118.39 L660.00,118.30 L659.50,118.21 L659.00,118.13 L658.50,118.05 L658.00,117.96 L657.50,117.88 L657.00,117.79 L656.50,117.71 L656.00,117.62 L655.50,117.54 L655.00,117.46 L654.50,117.37 L654.00,117.29 L653.50,117.21 L653.00,117.13 L652.50,117.04 L652.00,116.96 L651.50,116.88 L651.00,116.80 L650.50,116.72 L650.00,116.64 L649.50,116.56 L649.00,116.48 L648.50,116.40 L648.00,116.32 L647.50,116.24 L647.00,116.16 L646.50,116.08 L646.00,116.01 L645.50,115.93 L645.00,115.85 L644.50,115.78 L644.00,115.70 L643.50,115.62 L643.00,115.55 L642.50,115.47 L642.00,115.40 L641.50,115.32 L641.00,115.25 L640.50,115.17 L640.00,115.10 L639.50,115.03 L639.00,114.97 L638.50,114.91 L638.00,114.85 L637.50,114.78 L637.00,114.72 L636.50,114.66 L636.00,114.60 L635.50,114.54 L635.00,114.48 L634.50,114.42 L634.00,114.36 L633.50,114.30 L633.00,114.25 L632.50,114.19 L632.00,114.13 L631.50,114.08 L631.00,114.02 L630.50,113.97 L630.00,113.91 L629.50,113.86 L629.00,113.81 L628.50,113.76 L628.00,113.70 L627.50,113.65 L627.00,113.60 L626.50,113.55 L626.00,113.50 L625.50,113.45 L625.00,113.40 L624.50,113.35 L624.00,113.30 L623.50,113.25 L623.00,113.21 L622.50,113.16 L622.00,113.11 L621.50,113.07 L621.00,113.02 L620.50,112.98 L620.00,112.94 L619.50,112.89 L619.00,112.85 L618.50,112.81 L618.00,112.77 L617.50,112.73 L617.00,112.69 L616.50,112.65 L616.00,112.62 L615.50,112.58 L615.00,112.54 L614.50,112.51 L614.00,112.47 L613.50,112.44 L613.00,112.40 L612.50,112.37 L612.00,112.33 L611.50,112.28 L611.00,112.24 L610.50,112.19 L610.00,112.14 L609.50,112.09 L609.00,112.05 L608.50,112.00 L608.00,111.96 L607.50,111.91 L607.00,111.86 L606.50,111.82 L606.00,111.78 L605.50,111.73 L605.00,111.69 L604.50,111.64 L604.00,111.60 L603.50,111.56 L603.00,111.51 L602.50,111.47 L602.00,111.43 L601.50,111.38 L601.00,111.34 L600.50,111.30 L600.00,111.26 L599.50,111.22 L599.00,111.18 L598.50,111.14 L598.00,111.11 L597.50,111.07 L597.00,111.03 L596.50,110.99 L596.00,110.96 L595.50,110.92 L595.00,110.88 L594.50,110.85 L594.00,110.81 L593.50,110.77 L593.00,110.73 L592.50,110.70 L592.00,110.66 L591.50,110.62 L591.00,110.58 L590.50,110.54 L590.00,110.50 L589.50,110.45 L589.00,110.41 L588.50,110.37 L588.00,110.32 L587.50,110.28 L587.00,110.23 L586.50,110.19 L586.00,110.14 L585.50,110.10 L585.00,110.05 L584.50,110.00 L584.00,109.94 L583.50,109.89 L583.00,109.83 L582.50,109.78 L582.00,109.72 L581.50,109.66 L581.00,109.60 L580.50,109.53 L580.00,109.46 L579.50,109.40 L579.00,109.32 L578.50,109.25 L578.00,109.17 L577.50,109.09 L577.00,108.99 L576.50,108.90 L576.00,108.79 L575.50,108.68 L575.00,108.56 L574.50,108.44 L574.00,108.31 L573.50,108.18 L573.00,108.04 L572.50,107.91 L572.00,107.77 L571.50,107.63 L571.00,107.50 L570.50,107.36 L570.00,107.22 L569.50,107.08 L569.00,106.93 L568.50,106.77 L568.00,106.60 L567.50,106.43 L567.00,106.25 L566.50,106.08 L566.00,105.91 L565.50,105.75 L565.00,105.59 L564.50,105.45 L564.00,105.31 L563.50,105.19 L563.00,105.09 L562.50,105.00 L562.00,104.91 L561.50,104.81 L561.00,104.73 L560.50,104.64 L560.00,104.57 L559.50,104.51 L559.00,104.45 L558.50,104.42 L558.00,104.40 L557.50,104.40 L557.00,104.43 L556.50,104.50 L556.00,104.60 L555.50,104.72 L555.00,104.87 L554.50,105.03 L554.00,105.20 L553.50,105.37 L553.00,105.55 L552.50,105.75 L552.00,106.00 L551.50,106.30 L551.00,106.62 L550.50,106.97 L550.00,107.35 L549.50,107.73 L549.00,108.13 L548.50,108.52 L548.00,108.90 L547.50,109.30 L547.00,109.74 L546.50,110.21 L546.00,110.68 L545.50,111.14 L545.00,111.58 L544.50,111.97 L544.00,112.30 L543.50,112.61 L543.00,112.92 L542.50,113.23 L542.00,113.50 L541.50,113.72 L541.00,113.87 L540.40,113.92 L538.00,113.20 L535.40,111.28 L533.40,112.43 L531.00,117.14 L528.00,123.17 L525.40,124.85 L522.00,115.95 L520.80,107.77 L519.60,99.99 L517.00,105.20 L515.80,118.02 L514.40,130.88 L511.60,141.81 L509.40,144.36 L506.60,141.69 L504.00,130.62 L502.50,112.59 L501.00,90.55 L500.00,75.53 L498.80,62.09 L497.50,75.46 L496.00,106.42 L494.50,150.39 L493.00,178.35 L491.00,202.30Z" fill="#0000ff" fill-opacity="0.3"/>
<path d="M491.00,202.00 L493.00,178.00 L494.50,150.00 L496.00,106.00 L497.50,75.00 L498.80,61.60 L500.00,75.00 L501.00,90.00 L502.50,112.00 L504.00,130.00 L506.60,141.00 L509.40,143.60 L511.60,141.00 L514.40,130.00 L515.80,117.00 L517.00,104.00 L519.60,98.40 L520.80,106.00 L522.00,114.00 L525.40,122.40 L528.00,120.40 L531.00,114.00 L533.40,109.00 L535.40,107.60 L538.00,109.20 L540.40,109.80 L541.00,109.72 L541.50,109.55 L542.00,109.30 L542.50,109.00 L543.00,108.67 L543.50,108.33 L544.00,108.00 L544.50,107.64 L545.00,107.23 L545.50,106.77 L546.00,106.28 L546.50,105.78 L547.00,105.29 L547.50,104.83 L548.00,104.40 L548.50,103.99 L549.00,103.58 L549.50,103.16 L550.00,102.75 L550.50,102.35 L551.00,101.97 L551.50,101.62 L552.00,101.30 L552.50,101.03 L553.00,100.80 L553.50,100.60 L554.00,100.40 L554.50,100.20 L555.00,100.02 L555.50,99.85 L556.00,99.70 L556.50,99.58 L557.00,99.48 L557.50,99.42 L558.00,99.40 L558.50,99.41 L559.00,99.44 L559.50,99.48 L560.00,99.53 L560.50,99.60 L561.00,99.67 L561.50,99.75 L562.00,99.83 L562.50,99.92 L563.00,100.00 L563.50,100.09 L564.00,100.20 L564.50,100.33 L565.00,100.46 L565.50,100.61 L566.00,100.76 L566.50,100.92 L567.00,101.09 L567.50,101.25 L568.00,101.41 L568.50,101.57 L569.00,101.72 L569.50,101.87 L570.00,102.00 L570.50,102.13 L571.00,102.26 L571.50,102.38 L572.00,102.51 L572.50,102.64 L573.00,102.77 L573.50,102.89 L574.00,103.01 L574.50,103.13 L575.00,103.24 L575.50,103.35 L576.00,103.46 L576.50,103.55 L577.00,103.64 L577.50,103.73 L578.00,103.80 L578.50,103.87 L579.00,103.93 L579.50,104.00 L580.00,104.06 L580.50,104.11 L581.00,104.17 L581.50,104.22 L582.00,104.27 L582.50,104.32 L583.00,104.37 L583.50,104.42 L584.00,104.46 L584.50,104.51 L585.00,104.55 L585.50,104.59 L586.00,104.63 L586.50,104.67 L587.00,104.72 L587.50,104.76 L588.00,104.80 L588.50,104.84 L589.00,104.88 L589.50,104.92 L590.00,104.96 L590.50,105.00 L591.00,105.03 L591.50,105.07 L592.00,105.11 L592.50,105.14 L593.00,105.18 L593.50,105.21 L594.00,105.24 L594.50,105.28 L595.00,105.31 L595.50,105.34 L596.00,105.38 L596.50,105.41 L597.00,105.44 L597.50,105.48 L598.00,105.51 L598.50,105.54 L599.00,105.58 L599.50,105.61 L600.00,105.65 L600.50,105.69 L601.00,105.72 L601.50,105.76 L602.00,105.80 L602.50,105.84 L603.00,105.88 L603.50,105.92 L604.00,105.96 L604.50,106.00 L605.00,106.04 L605.50,106.08 L606.00,106.12 L606.50,106.16 L607.00,106.20 L607.50,106.24 L608.00,106.29 L608.50,106.33 L609.00,106.37 L609.50,106.41 L610.00,106.46 L610.50,106.50 L611.00,106.54 L611.50,106.59 L612.00,106.63 L612.50,106.68 L613.00,106.72 L613.50,106.77 L614.00,106.81 L614.50,106.86 L615.00,106.91 L615.50,106.95 L616.00,107.00 L616.50,107.05 L617.00,107.10 L617.50,107.15 L618.00,107.20 L618.50,107.25 L619.00,107.30 L619.50,107.35 L620.00,107.41 L620.50,107.46 L621.00,107.52 L621.50,107.57 L622.00,107.63 L622.50,107.68 L623.00,107.74 L623.50,107.80 L624.00,107.86 L624.50,107.92 L625.00,107.98 L625.50,108.04 L626.00,108.10 L626.50,108.16 L627.00,108.22 L627.50,108.28 L628.00,108.35 L628.50,108.41 L629.00,108.47 L629.50,108.54 L630.00,108.60 L630.50,108.66 L631.00,108.73 L631.50,108.80 L632.00,108.86 L632.50,108.93 L633.00,109.00 L633.50,109.07 L634.00,109.13 L634.50,109.20 L635.00,109.27 L635.50,109.34 L636.00,109.42 L636.50,109.49 L637.00,109.56 L637.50,109.63 L638.00,109.70 L638.50,109.78 L639.00,109.85 L639.50,109.92 L640.00,110.00 L640.50,110.07 L641.00,110.15 L641.50,110.22 L642.00,110.30 L642.50,110.37 L643.00,110.45 L643.50,110.52 L644.00,110.60 L644.50,110.68 L645.00,110.75 L645.50,110.83 L646.00,110.91 L646.50,110.98 L647.00,111.06 L647.50,111.14 L648.00,111.22 L648.50,111.30 L649.00,111.38 L649.50,111.46 L650.00,111.54 L650.50,111.62 L651.00,111.70 L651.50,111.78 L652.00,111.86 L652.50,111.94 L653.00,112.03 L653.50,112.11 L654.00,112.19 L654.50,112.27 L655.00,112.36 L655.50,112.44 L656.00,112.52 L656.50,112.61 L657.00,112.69 L657.50,112.78 L658.00,112.86 L658.50,112.95 L659.00,113.03 L659.50,113.11 L660.00,113.20 L660.50,113.29 L661.00,113.37 L661.50,113.46 L662.00,113.54 L662.50,113.63 L663.00,113.72 L663.50,113.80 L664.00,113.89 L664.50,113.98 L665.00,114.06 L665.50,114.15 L666.00,114.24 L666.50,114.33 L667.00,114.42 L667.50,114.50 L668.00,114.59 L668.50,114.68 L669.00,114.77 L669.50,114.86 L670.00,114.95 L670.50,115.04 L671.00,115.13 L671.50,115.22 L672.00,115.31 L672.50,115.40 L673.00,115.50 L673.50,115.59 L674.00,115.68 L674.50,115.77 L675.00,115.86 L675.50,115.96 L676.00,116.05 L676.50,116.14 L677.00,116.24 L677.50,116.33 L678.00,116.42 L678.50,116.52 L679.00,116.61 L679.50,116.71 L680.00,116.80 L680.50,116.90 L681.00,116.99 L681.50,117.09 L682.00,117.18 L682.50,117.28 L683.00,117.38 L683.50,117.47 L684.00,117.57 L684.50,117.67 L685.00,117.77 L685.50,117.86 L686.00,117.96 L686.50,118.06 L687.00,118.16 L687.50,118.26 L688.00,118.36 L688.50,118.46 L689.00,118.56 L689.50,118.66 L690.00,118.76 L690.50,118.87 L691.00,118.97 L691.50,119.07 L692.00,119.17 L692.50,119.27 L693.00,119.38 L693.50,119.48 L694.00,119.58 L694.50,119.69 L695.00,119.79 L695.50,119.90 L696.00,120.00" fill="none" stroke="#0000ff" stroke-width="1.6" stroke-linejoin="round" stroke-linecap="butt"/>
<path d="M669.60,115.00 L670.60,114.99 L671.60,114.98 L672.60,114.97 L673.60,114.96 L674.60,114.95 L675.60,114.95 L676.60,114.94 L677.60,114.93 L678.60,114.92 L679.60,114.91 L680.60,114.90 L681.60,114.89 L682.60,114.88 L683.60,114.87 L684.60,114.86 L685.60,114.85 L686.60,114.85 L687.60,114.84 L688.60,114.83 L689.60,114.82 L690.60,114.81 L691.60,114.80 L692.60,114.79 L693.60,114.78 L694.60,114.77 L695.60,114.76 L696.60,114.75 L697.60,114.75 L698.60,114.74 L699.60,114.73 L700.60,114.72 L701.60,114.71 L702.60,114.70 L703.60,114.69 L704.60,114.68 L705.60,114.67 L706.60,114.66 L707.60,114.65 L708.60,114.65 L709.60,114.64 L710.60,114.63 L711.60,114.62 L712.60,114.61 L713.60,114.60 L714.60,114.59 L715.60,114.58 L716.60,114.57 L717.60,114.56 L718.60,114.55 L719.60,114.55 L720.60,114.54 L721.60,114.53 L722.60,114.52 L723.60,114.51 L724.60,114.50 L725.60,114.49 L726.60,114.48 L727.60,114.47 L728.60,114.46 L729.60,114.45 L730.60,114.45 L731.60,114.44 L732.60,114.43 L733.60,114.42 L734.60,114.41 L735.60,114.40 L736.60,114.39 L737.60,114.38 L738.60,114.37 L739.60,114.36 L740.60,114.35 L741.60,114.34 L742.60,114.34 L743.60,114.33 L744.60,114.32 L745.60,114.31 L746.60,114.30 L747.60,114.29 L748.60,114.28 L749.60,114.27 L750.60,114.26 L751.60,114.25 L752.60,114.24 L753.60,114.24 L754.60,114.23 L755.60,114.22 L756.60,114.21 L757.60,114.20 L758.60,114.19 L759.60,114.18 L760.60,114.17 L761.60,114.16 L762.60,114.15 L763.60,114.14 L764.60,114.14 L765.60,114.13 L766.60,114.12 L767.60,114.11 L768.60,114.10 L769.60,114.09 L770.60,114.08 L771.60,114.07 L772.60,114.06 L773.60,114.05 L774.60,114.04 L775.60,114.04 L776.60,114.03 L777.60,114.02 L778.60,114.01 L779.60,114.00 L780.60,113.99 L781.60,113.98 L782.60,113.97 L783.60,113.96 L784.60,113.95 L785.60,113.94 L786.60,113.94 L787.60,113.93 L788.60,113.92 L789.60,113.91 L790.60,113.90 L791.60,113.89 L792.60,113.88 L793.60,113.87 L794.60,113.86 L795.60,113.85 L796.60,113.84 L797.60,113.84 L798.60,113.83 L799.60,113.82 L800.60,113.81 L801.50,113.80 L801.50,124.20 L800.60,124.21 L799.60,124.21 L798.60,124.22 L797.60,124.22 L796.60,124.23 L795.60,124.24 L794.60,124.24 L793.60,124.25 L792.60,124.25 L791.60,124.26 L790.60,124.27 L789.60,124.27 L788.60,124.28 L787.60,124.28 L786.60,124.29 L785.60,124.30 L784.60,124.30 L783.60,124.31 L782.60,124.31 L781.60,124.32 L780.60,124.33 L779.60,124.33 L778.60,124.34 L777.60,124.34 L776.60,124.35 L775.60,124.36 L774.60,124.36 L773.60,124.37 L772.60,124.38 L771.60,124.38 L770.60,124.39 L769.60,124.39 L768.60,124.40 L767.60,124.41 L766.60,124.41 L765.60,124.42 L764.60,124.42 L763.60,124.43 L762.60,124.44 L761.60,124.44 L760.60,124.45 L759.60,124.45 L758.60,124.46 L757.60,124.47 L756.60,124.47 L755.60,124.48 L754.60,124.48 L753.60,124.49 L752.60,124.50 L751.60,124.50 L750.60,124.51 L749.60,124.51 L748.60,124.52 L747.60,124.53 L746.60,124.53 L745.60,124.54 L744.60,124.55 L743.60,124.55 L742.60,124.56 L741.60,124.56 L740.60,124.57 L739.60,124.58 L738.60,124.58 L737.60,124.59 L736.60,124.59 L735.60,124.60 L734.60,124.61 L733.60,124.61 L732.60,124.62 L731.60,124.62 L730.60,124.63 L729.60,124.64 L728.60,124.64 L727.60,124.65 L726.60,124.65 L725.60,124.66 L724.60,124.67 L723.60,124.67 L722.60,124.68 L721.60,124.68 L720.60,124.69 L719.60,124.70 L718.60,124.70 L717.60,124.71 L716.60,124.71 L715.60,124.72 L714.60,124.73 L713.60,124.73 L712.60,124.74 L711.60,124.75 L710.60,124.75 L709.60,124.76 L708.60,124.76 L707.60,124.77 L706.60,124.78 L705.60,124.78 L704.60,124.79 L703.60,124.79 L702.60,124.80 L701.60,124.81 L700.60,124.81 L699.60,124.82 L698.60,124.82 L697.60,124.83 L696.60,124.84 L695.60,124.84 L694.60,124.85 L693.60,124.85 L692.60,124.86 L691.60,124.87 L690.60,124.87 L689.60,124.88 L688.60,124.88 L687.60,124.89 L686.60,124.90 L685.60,124.90 L684.60,124.91 L683.60,124.92 L682.60,124.92 L681.60,124.93 L680.60,124.93 L679.60,124.94 L678.60,124.95 L677.60,124.95 L676.60,124.96 L675.60,124.96 L674.60,124.97 L673.60,124.98 L672.60,124.98 L671.60,124.99 L670.60,124.99 L669.60,125.00Z" fill="#ff0000" fill-opacity="0.3"/>
<path d="M669.60,120.00 L670.60,119.99 L671.60,119.98 L672.60,119.98 L673.60,119.97 L674.60,119.96 L675.60,119.95 L676.60,119.95 L677.60,119.94 L678.60,119.93 L679.60,119.92 L680.60,119.92 L681.60,119.91 L682.60,119.90 L683.60,119.89 L684.60,119.89 L685.60,119.88 L686.60,119.87 L687.60,119.86 L688.60,119.86 L689.60,119.85 L690.60,119.84 L691.60,119.83 L692.60,119.83 L693.60,119.82 L694.60,119.81 L695.60,119.80 L696.60,119.80 L697.60,119.79 L698.60,119.78 L699.60,119.77 L700.60,119.76 L701.60,119.76 L702.60,119.75 L703.60,119.74 L704.60,119.73 L705.60,119.73 L706.60,119.72 L707.60,119.71 L708.60,119.70 L709.60,119.70 L710.60,119.69 L711.60,119.68 L712.60,119.67 L713.60,119.67 L714.60,119.66 L715.60,119.65 L716.60,119.64 L717.60,119.64 L718.60,119.63 L719.60,119.62 L720.60,119.61 L721.60,119.61 L722.60,119.60 L723.60,119.59 L724.60,119.58 L725.60,119.58 L726.60,119.57 L727.60,119.56 L728.60,119.55 L729.60,119.55 L730.60,119.54 L731.60,119.53 L732.60,119.52 L733.60,119.51 L734.60,119.51 L735.60,119.50 L736.60,119.49 L737.60,119.48 L738.60,119.48 L739.60,119.47 L740.60,119.46 L741.60,119.45 L742.60,119.45 L743.60,119.44 L744.60,119.43 L745.60,119.42 L746.60,119.42 L747.60,119.41 L748.60,119.40 L749.60,119.39 L750.60,119.39 L751.60,119.38 L752.60,119.37 L753.60,119.36 L754.60,119.36 L755.60,119.35 L756.60,119.34 L757.60,119.33 L758.60,119.33 L759.60,119.32 L760.60,119.31 L761.60,119.30 L762.60,119.29 L763.60,119.29 L764.60,119.28 L765.60,119.27 L766.60,119.26 L767.60,119.26 L768.60,119.25 L769.60,119.24 L770.60,119.23 L771.60,119.23 L772.60,119.22 L773.60,119.21 L774.60,119.20 L775.60,119.20 L776.60,119.19 L777.60,119.18 L778.60,119.17 L779.60,119.17 L780.60,119.16 L781.60,119.15 L782.60,119.14 L783.60,119.14 L784.60,119.13 L785.60,119.12 L786.60,119.11 L787.60,119.11 L788.60,119.10 L789.60,119.09 L790.60,119.08 L791.60,119.08 L792.60,119.07 L793.60,119.06 L794.60,119.05 L795.60,119.04 L796.60,119.04 L797.60,119.03 L798.60,119.02 L799.60,119.01 L800.60,119.01 L801.50,119.00" fill="none" stroke="#ff0000" stroke-width="1.6" stroke-dasharray="8.6,7.9"/>
<line x1="696.20" y1="9.10" x2="696.20" y2="205.4" stroke="#000" stroke-width="1.45" stroke-dasharray="4.15,1.595" stroke-dashoffset="1.2"/>
<path d="M498.76,205.4v-2.4 M498.76,10.5v2.4 M511.93,205.4v-3.8 M511.93,10.5v3.8 M525.09,205.4v-2.4 M525.09,10.5v2.4 M538.25,205.4v-2.4 M538.25,10.5v2.4 M551.41,205.4v-2.4 M551.41,10.5v2.4 M564.58,205.4v-3.8 M564.58,10.5v3.8 M577.74,205.4v-2.4 M577.74,10.5v2.4 M590.90,205.4v-2.4 M590.90,10.5v2.4 M604.06,205.4v-2.4 M604.06,10.5v2.4 M617.23,205.4v-3.8 M617.23,10.5v3.8 M630.39,205.4v-2.4 M630.39,10.5v2.4 M643.55,205.4v-2.4 M643.55,10.5v2.4 M656.71,205.4v-2.4 M656.71,10.5v2.4 M669.88,205.4v-3.8 M669.88,10.5v3.8 M683.04,205.4v-2.4 M683.04,10.5v2.4 M696.20,205.4v-2.4 M696.20,10.5v2.4 M709.36,205.4v-2.4 M709.36,10.5v2.4 M722.52,205.4v-3.8 M722.52,10.5v3.8 M735.69,205.4v-2.4 M735.69,10.5v2.4 M748.85,205.4v-2.4 M748.85,10.5v2.4 M762.01,205.4v-2.4 M762.01,10.5v2.4 M775.17,205.4v-3.8 M775.17,10.5v3.8 M788.34,205.4v-2.4 M788.34,10.5v2.4 M485.6,197.60h2.4 M801.5,197.60h-2.4 M485.6,189.81h2.4 M801.5,189.81h-2.4 M485.6,182.01h2.4 M801.5,182.01h-2.4 M485.6,174.22h2.4 M801.5,174.22h-2.4 M485.6,166.42h3.8 M801.5,166.42h-3.8 M485.6,158.62h2.4 M801.5,158.62h-2.4 M485.6,150.83h2.4 M801.5,150.83h-2.4 M485.6,143.03h2.4 M801.5,143.03h-2.4 M485.6,135.24h2.4 M801.5,135.24h-2.4 M485.6,127.44h3.8 M801.5,127.44h-3.8 M485.6,119.64h2.4 M801.5,119.64h-2.4 M485.6,111.85h2.4 M801.5,111.85h-2.4 M485.6,104.05h2.4 M801.5,104.05h-2.4 M485.6,96.26h2.4 M801.5,96.26h-2.4 M485.6,88.46h3.8 M801.5,88.46h-3.8 M485.6,80.66h2.4 M801.5,80.66h-2.4 M485.6,72.87h2.4 M801.5,72.87h-2.4 M485.6,65.07h2.4 M801.5,65.07h-2.4 M485.6,57.28h2.4 M801.5,57.28h-2.4 M485.6,49.48h3.8 M801.5,49.48h-3.8 M485.6,41.68h2.4 M801.5,41.68h-2.4 M485.6,33.89h2.4 M801.5,33.89h-2.4 M485.6,26.09h2.4 M801.5,26.09h-2.4 M485.6,18.30h2.4 M801.5,18.30h-2.4" stroke="#000" stroke-width="1" fill="none"/>
<rect x="485.6" y="10.5" width="315.9" height="194.9" fill="none" stroke="#000" stroke-width="1"/>
<rect x="502.00" y="20.40" width="152.2" height="31.0" fill="#fff" stroke="#d8d8d8" stroke-width="1"/>
<path d="M73.00,463.70 L75.60,452.62 L77.00,439.58 L78.40,423.54 L79.80,413.50 L81.00,409.06 L82.00,413.43 L83.00,419.40 L85.60,428.33 L87.20,430.58 L89.00,431.23 L91.00,430.17 L93.00,427.11 L96.40,418.01 L98.00,408.96 L99.40,398.92 L100.80,393.67 L102.00,390.93 L103.20,394.98 L104.40,400.63 L106.00,404.68 L107.60,405.71 L111.00,401.50 L114.40,393.32 L116.40,387.42 L118.00,384.60 L121.60,384.02 L122.50,383.50 L123.00,383.00 L123.50,382.38 L124.00,381.68 L124.50,380.93 L125.00,380.16 L125.50,379.41 L126.00,378.70 L126.50,377.99 L127.00,377.24 L127.50,376.45 L128.00,375.63 L128.50,374.80 L129.00,373.98 L129.50,373.17 L130.00,372.38 L130.50,371.62 L131.00,370.92 L131.50,370.24 L132.00,369.58 L132.50,368.92 L133.00,368.28 L133.50,367.66 L134.00,367.06 L134.50,366.49 L135.00,365.96 L135.50,365.46 L136.00,365.00 L136.50,364.57 L137.00,364.14 L137.50,363.73 L138.00,363.34 L138.50,362.98 L139.00,362.66 L139.50,362.39 L140.00,362.17 L140.50,361.98 L141.00,361.80 L141.50,361.63 L142.00,361.48 L142.50,361.30 L143.00,361.14 L143.50,361.00 L144.00,360.88 L144.50,360.77 L145.00,360.66 L145.50,360.56 L146.00,360.47 L146.50,360.37 L147.00,360.28 L147.50,360.19 L148.00,360.10 L148.50,360.00 L149.00,359.90 L149.50,359.80 L150.00,359.70 L150.50,359.63 L151.00,359.56 L151.50,359.49 L152.00,359.40 L152.50,359.31 L153.00,359.22 L153.50,359.12 L154.00,359.02 L154.50,358.92 L155.00,358.81 L155.50,358.70 L156.00,358.59 L156.50,358.47 L157.00,358.35 L157.50,358.23 L158.00,358.12 L158.50,357.99 L159.00,357.86 L159.50,357.72 L160.00,357.57 L160.50,357.42 L161.00,357.26 L161.50,357.10 L162.00,356.93 L162.50,356.76 L163.00,356.58 L163.50,356.41 L164.00,356.23 L164.50,356.06 L165.00,355.88 L165.50,355.70 L166.00,355.53 L166.50,355.36 L167.00,355.18 L167.50,355.00 L168.00,354.81 L168.50,354.63 L169.00,354.44 L169.50,354.25 L170.00,354.06 L170.50,353.87 L171.00,353.67 L171.50,353.48 L172.00,353.29 L172.50,353.10 L173.00,352.91 L173.50,352.72 L174.00,352.53 L174.50,352.34 L175.00,352.16 L175.50,351.98 L176.00,351.80 L176.50,351.64 L177.00,351.48 L177.50,351.32 L178.00,351.17 L178.50,351.01 L179.00,350.85 L179.50,350.70 L180.00,350.54 L180.50,350.39 L181.00,350.23 L181.50,350.08 L182.00,349.93 L182.50,349.79 L183.00,349.64 L183.50,349.49 L184.00,349.35 L184.50,349.21 L185.00,349.07 L185.50,348.93 L186.00,348.80 L186.50,348.67 L187.00,348.54 L187.50,348.40 L188.00,348.27 L188.50,348.15 L189.00,348.02 L189.50,347.89 L190.00,347.76 L190.50,347.64 L191.00,347.52 L191.50,347.40 L192.00,347.28 L192.50,347.16 L193.00,347.05 L193.50,346.93 L194.00,346.82 L194.50,346.71 L195.00,346.61 L195.50,346.50 L196.00,346.40 L196.50,346.30 L197.00,346.21 L197.50,346.11 L198.00,346.02 L198.50,345.92 L199.00,345.83 L199.50,345.74 L200.00,345.64 L200.50,345.55 L201.00,345.47 L201.50,345.38 L202.00,345.29 L202.50,345.21 L203.00,345.12 L203.50,345.04 L204.00,344.96 L204.50,344.89 L205.00,344.81 L205.50,344.74 L206.00,344.66 L206.50,344.59 L207.00,344.53 L207.50,344.46 L208.00,344.40 L208.50,344.34 L209.00,344.28 L209.50,344.22 L210.00,344.16 L210.50,344.10 L211.00,344.04 L211.50,343.98 L212.00,343.92 L212.50,343.87 L213.00,343.81 L213.50,343.76 L214.00,343.71 L214.50,343.66 L215.00,343.60 L215.50,343.56 L216.00,343.51 L216.50,343.46 L217.00,343.42 L217.50,343.38 L218.00,343.34 L218.50,343.30 L219.00,343.26 L219.50,343.23 L220.00,343.20 L220.50,343.18 L221.00,343.17 L221.50,343.15 L222.00,343.14 L222.50,343.13 L223.00,343.11 L223.50,343.10 L224.00,343.08 L224.50,343.07 L225.00,343.06 L225.50,343.05 L226.00,343.04 L226.50,343.02 L227.00,343.01 L227.50,343.00 L228.00,342.99 L228.50,342.99 L229.00,342.98 L229.50,342.97 L230.00,342.97 L230.50,342.96 L231.00,342.96 L231.50,342.95 L232.00,342.95 L232.50,342.95 L233.00,342.95 L233.50,342.95 L234.00,342.96 L234.50,342.96 L235.00,342.97 L235.50,342.98 L236.00,342.99 L236.50,343.01 L237.00,343.02 L237.50,343.04 L238.00,343.05 L238.50,343.07 L239.00,343.09 L239.50,343.11 L240.00,343.13 L240.50,343.15 L241.00,343.17 L241.50,343.19 L242.00,343.21 L242.50,343.23 L243.00,343.26 L243.50,343.28 L244.00,343.30 L244.50,343.33 L245.00,343.36 L245.50,343.40 L246.00,343.44 L246.50,343.48 L247.00,343.52 L247.50,343.56 L248.00,343.60 L248.50,343.65 L249.00,343.70 L249.50,343.75 L250.00,343.80 L250.50,343.85 L251.00,343.90 L251.50,343.95 L252.00,344.00 L252.50,344.06 L253.00,344.11 L253.50,344.17 L254.00,344.22 L254.50,344.28 L255.00,344.33 L255.50,344.39 L256.00,344.44 L256.50,344.49 L257.00,344.55 L257.50,344.61 L258.00,344.67 L258.50,344.73 L259.00,344.79 L259.50,344.85 L260.00,344.91 L260.50,344.97 L261.00,345.04 L261.50,345.10 L262.00,345.17 L262.50,345.23 L263.00,345.30 L263.50,345.37 L264.00,345.43 L264.50,345.50 L265.00,345.57 L265.50,345.64 L266.00,345.71 L266.50,345.77 L267.00,345.84 L267.50,345.91 L268.00,345.98 L268.50,346.05 L269.00,346.12 L269.50,346.19 L270.00,346.26 L270.50,346.33 L271.00,346.40 L271.50,346.47 L272.00,346.55 L272.50,346.62 L273.00,346.69 L273.50,346.77 L274.00,346.84 L274.50,346.92 L275.00,346.99 L275.50,347.07 L276.00,347.14 L276.50,347.22 L277.00,347.30 L277.50,347.38 L278.00,347.45 L278.30,347.50 L278.30,370.50 L278.00,370.46 L277.50,370.39 L277.00,370.33 L276.50,370.26 L276.00,370.20 L275.50,370.13 L275.00,370.07 L274.50,370.01 L274.00,369.94 L273.50,369.88 L273.00,369.82 L272.50,369.76 L272.00,369.69 L271.50,369.63 L271.00,369.57 L270.50,369.51 L270.00,369.45 L269.50,369.39 L269.00,369.34 L268.50,369.28 L268.00,369.22 L267.50,369.16 L267.00,369.11 L266.50,369.05 L266.00,368.99 L265.50,368.94 L265.00,368.88 L264.50,368.82 L264.00,368.77 L263.50,368.71 L263.00,368.66 L262.50,368.60 L262.00,368.55 L261.50,368.49 L261.00,368.44 L260.50,368.39 L260.00,368.34 L259.50,368.29 L259.00,368.24 L258.50,368.19 L258.00,368.14 L257.50,368.09 L257.00,368.05 L256.50,368.00 L256.00,367.96 L255.50,367.92 L255.00,367.87 L254.50,367.83 L254.00,367.79 L253.50,367.74 L253.00,367.70 L252.50,367.66 L252.00,367.62 L251.50,367.58 L251.00,367.53 L250.50,367.49 L250.00,367.46 L249.50,367.42 L249.00,367.38 L248.50,367.35 L248.00,367.31 L247.50,367.28 L247.00,367.25 L246.50,367.22 L246.00,367.19 L245.50,367.16 L245.00,367.14 L244.50,367.12 L244.00,367.10 L243.50,367.07 L243.00,367.05 L242.50,367.02 L242.00,367.00 L241.50,366.97 L241.00,366.94 L240.50,366.92 L240.00,366.89 L239.50,366.87 L239.00,366.85 L238.50,366.83 L238.00,366.80 L237.50,366.78 L237.00,366.76 L236.50,366.75 L236.00,366.73 L235.50,366.71 L235.00,366.70 L234.50,366.69 L234.00,366.67 L233.50,366.67 L233.00,366.66 L232.50,366.65 L232.00,366.65 L231.50,366.65 L231.00,366.65 L230.50,366.65 L230.00,366.65 L229.50,366.65 L229.00,366.65 L228.50,366.66 L228.00,366.66 L227.50,366.67 L227.00,366.67 L226.50,366.68 L226.00,366.69 L225.50,366.69 L225.00,366.70 L224.50,366.71 L224.00,366.72 L223.50,366.73 L223.00,366.74 L222.50,366.75 L222.00,366.76 L221.50,366.77 L221.00,366.78 L220.50,366.79 L220.00,366.80 L219.50,366.80 L219.00,366.80 L218.50,366.80 L218.00,366.80 L217.50,366.81 L217.00,366.82 L216.50,366.83 L216.00,366.84 L215.50,366.86 L215.00,366.87 L214.50,366.89 L214.00,366.91 L213.50,366.93 L213.00,366.95 L212.50,366.97 L212.00,366.99 L211.50,367.02 L211.00,367.04 L210.50,367.07 L210.00,367.09 L209.50,367.12 L209.00,367.14 L208.50,367.17 L208.00,367.20 L207.50,367.23 L207.00,367.26 L206.50,367.29 L206.00,367.33 L205.50,367.37 L205.00,367.41 L204.50,367.45 L204.00,367.50 L203.50,367.54 L203.00,367.59 L202.50,367.64 L202.00,367.69 L201.50,367.74 L201.00,367.80 L200.50,367.85 L200.00,367.91 L199.50,367.97 L199.00,368.03 L198.50,368.09 L198.00,368.15 L197.50,368.21 L197.00,368.27 L196.50,368.34 L196.00,368.40 L195.50,368.46 L195.00,368.53 L194.50,368.59 L194.00,368.66 L193.50,368.73 L193.00,368.81 L192.50,368.88 L192.00,368.96 L191.50,369.04 L191.00,369.12 L190.50,369.20 L190.00,369.28 L189.50,369.37 L189.00,369.46 L188.50,369.55 L188.00,369.63 L187.50,369.72 L187.00,369.82 L186.50,369.91 L186.00,370.00 L185.50,370.09 L185.00,370.19 L184.50,370.29 L184.00,370.39 L183.50,370.49 L183.00,370.60 L182.50,370.71 L182.00,370.81 L181.50,370.92 L181.00,371.03 L180.50,371.15 L180.00,371.26 L179.50,371.38 L179.00,371.49 L178.50,371.61 L178.00,371.73 L177.50,371.84 L177.00,371.96 L176.50,372.08 L176.00,372.20 L175.50,372.30 L175.00,372.41 L174.50,372.52 L174.00,372.64 L173.50,372.75 L173.00,372.87 L172.50,372.98 L172.00,373.10 L171.50,373.22 L171.00,373.34 L170.50,373.46 L170.00,373.58 L169.50,373.70 L169.00,373.82 L168.50,373.93 L168.00,374.04 L167.50,374.16 L167.00,374.26 L166.50,374.37 L166.00,374.47 L165.50,374.57 L165.00,374.67 L164.50,374.78 L164.00,374.88 L163.50,374.98 L163.00,375.08 L162.50,375.18 L162.00,375.28 L161.50,375.38 L161.00,375.47 L160.50,375.55 L160.00,375.63 L159.50,375.71 L159.00,375.77 L158.50,375.83 L158.00,375.88 L157.50,375.93 L157.00,375.98 L156.50,376.02 L156.00,376.06 L155.50,376.10 L155.00,376.14 L154.50,376.18 L154.00,376.21 L153.50,376.24 L153.00,376.26 L152.50,376.28 L152.00,376.29 L151.50,376.30 L151.00,376.31 L150.50,376.31 L150.00,376.30 L149.50,376.24 L149.00,376.18 L148.50,376.11 L148.00,376.05 L147.50,375.98 L147.00,375.91 L146.50,375.84 L146.00,375.77 L145.50,375.70 L145.00,375.64 L144.50,375.58 L144.00,375.52 L143.50,375.48 L143.00,375.46 L142.50,375.46 L142.00,375.48 L141.50,375.55 L141.00,375.63 L140.50,375.73 L140.00,375.83 L139.50,375.97 L139.00,376.16 L138.50,376.40 L138.00,376.67 L137.50,376.98 L137.00,377.31 L136.50,377.65 L136.00,378.00 L135.50,378.37 L135.00,378.79 L134.50,379.24 L134.00,379.73 L133.50,380.24 L133.00,380.78 L132.50,381.34 L132.00,381.91 L131.50,382.49 L131.00,383.08 L130.50,383.71 L130.00,384.38 L129.50,385.12 L129.00,385.88 L128.50,386.65 L128.00,387.43 L127.50,388.20 L127.00,388.94 L126.50,389.64 L126.00,390.30 L125.50,390.96 L125.00,391.66 L124.50,392.38 L124.00,393.08 L123.50,393.73 L123.00,394.30 L122.50,394.75 L121.60,395.18 L118.00,395.40 L116.40,397.58 L114.40,402.68 L111.00,409.50 L107.60,412.29 L106.00,410.32 L104.40,405.37 L103.20,399.02 L102.00,394.28 L100.80,396.33 L99.40,401.08 L98.00,411.04 L96.40,419.99 L93.00,428.89 L91.00,431.83 L89.00,432.77 L87.20,432.02 L85.60,429.67 L83.00,420.60 L82.00,414.57 L81.00,410.14 L79.80,414.50 L78.40,424.46 L77.00,440.42 L75.60,453.38 L73.00,464.30Z" fill="#0000ff" fill-opacity="0.3"/>
<path d="M73.00,464.00 L75.60,453.00 L77.00,440.00 L78.40,424.00 L79.80,414.00 L81.00,409.60 L82.00,414.00 L83.00,420.00 L85.60,429.00 L87.20,431.30 L89.00,432.00 L91.00,431.00 L93.00,428.00 L96.40,419.00 L98.00,410.00 L99.40,400.00 L100.80,395.00 L102.00,392.60 L103.20,397.00 L104.40,403.00 L106.00,407.50 L107.60,409.00 L111.00,405.50 L114.40,398.00 L116.40,392.50 L118.00,390.00 L121.60,389.60 L122.50,389.13 L123.00,388.65 L123.50,388.06 L124.00,387.38 L124.50,386.66 L125.00,385.91 L125.50,385.18 L126.00,384.50 L126.50,383.82 L127.00,383.09 L127.50,382.32 L128.00,381.53 L128.50,380.73 L129.00,379.93 L129.50,379.14 L130.00,378.38 L130.50,377.67 L131.00,377.00 L131.50,376.37 L132.00,375.74 L132.50,375.13 L133.00,374.53 L133.50,373.95 L134.00,373.39 L134.50,372.87 L135.00,372.37 L135.50,371.92 L136.00,371.50 L136.50,371.11 L137.00,370.72 L137.50,370.35 L138.00,370.01 L138.50,369.69 L139.00,369.41 L139.50,369.18 L140.00,369.00 L140.50,368.85 L141.00,368.72 L141.50,368.59 L142.00,368.48 L142.50,368.38 L143.00,368.30 L143.50,368.24 L144.00,368.20 L144.50,368.17 L145.00,368.15 L145.50,368.13 L146.00,368.12 L146.50,368.10 L147.00,368.09 L147.50,368.08 L148.00,368.07 L148.50,368.06 L149.00,368.04 L149.50,368.02 L150.00,368.00 L150.50,367.97 L151.00,367.94 L151.50,367.90 L152.00,367.85 L152.50,367.80 L153.00,367.74 L153.50,367.68 L154.00,367.62 L154.50,367.55 L155.00,367.48 L155.50,367.40 L156.00,367.32 L156.50,367.25 L157.00,367.16 L157.50,367.08 L158.00,367.00 L158.50,366.91 L159.00,366.82 L159.50,366.71 L160.00,366.60 L160.50,366.49 L161.00,366.36 L161.50,366.24 L162.00,366.11 L162.50,365.97 L163.00,365.83 L163.50,365.70 L164.00,365.56 L164.50,365.42 L165.00,365.28 L165.50,365.14 L166.00,365.00 L166.50,364.86 L167.00,364.72 L167.50,364.58 L168.00,364.43 L168.50,364.28 L169.00,364.13 L169.50,363.97 L170.00,363.82 L170.50,363.66 L171.00,363.51 L171.50,363.35 L172.00,363.20 L172.50,363.04 L173.00,362.89 L173.50,362.73 L174.00,362.58 L174.50,362.43 L175.00,362.29 L175.50,362.14 L176.00,362.00 L176.50,361.86 L177.00,361.72 L177.50,361.58 L178.00,361.45 L178.50,361.31 L179.00,361.17 L179.50,361.04 L180.00,360.90 L180.50,360.77 L181.00,360.63 L181.50,360.50 L182.00,360.37 L182.50,360.25 L183.00,360.12 L183.50,359.99 L184.00,359.87 L184.50,359.75 L185.00,359.63 L185.50,359.51 L186.00,359.40 L186.50,359.29 L187.00,359.18 L187.50,359.06 L188.00,358.95 L188.50,358.85 L189.00,358.74 L189.50,358.63 L190.00,358.52 L190.50,358.42 L191.00,358.32 L191.50,358.22 L192.00,358.12 L192.50,358.02 L193.00,357.93 L193.50,357.83 L194.00,357.74 L194.50,357.65 L195.00,357.57 L195.50,357.48 L196.00,357.40 L196.50,357.32 L197.00,357.24 L197.50,357.16 L198.00,357.08 L198.50,357.01 L199.00,356.93 L199.50,356.85 L200.00,356.78 L200.50,356.70 L201.00,356.63 L201.50,356.56 L202.00,356.49 L202.50,356.42 L203.00,356.36 L203.50,356.29 L204.00,356.23 L204.50,356.17 L205.00,356.11 L205.50,356.05 L206.00,356.00 L206.50,355.94 L207.00,355.89 L207.50,355.85 L208.00,355.80 L208.50,355.76 L209.00,355.71 L209.50,355.67 L210.00,355.62 L210.50,355.58 L211.00,355.54 L211.50,355.50 L212.00,355.46 L212.50,355.42 L213.00,355.38 L213.50,355.34 L214.00,355.31 L214.50,355.27 L215.00,355.24 L215.50,355.21 L216.00,355.18 L216.50,355.15 L217.00,355.12 L217.50,355.09 L218.00,355.07 L218.50,355.05 L219.00,355.03 L219.50,355.01 L220.00,355.00 L220.50,354.99 L221.00,354.97 L221.50,354.96 L222.00,354.95 L222.50,354.94 L223.00,354.92 L223.50,354.91 L224.00,354.90 L224.50,354.89 L225.00,354.88 L225.50,354.87 L226.00,354.86 L226.50,354.85 L227.00,354.84 L227.50,354.84 L228.00,354.83 L228.50,354.82 L229.00,354.82 L229.50,354.81 L230.00,354.81 L230.50,354.80 L231.00,354.80 L231.50,354.80 L232.00,354.80 L232.50,354.80 L233.00,354.80 L233.50,354.81 L234.00,354.82 L234.50,354.83 L235.00,354.84 L235.50,354.85 L236.00,354.86 L236.50,354.88 L237.00,354.89 L237.50,354.91 L238.00,354.93 L238.50,354.95 L239.00,354.97 L239.50,354.99 L240.00,355.01 L240.50,355.03 L241.00,355.06 L241.50,355.08 L242.00,355.10 L242.50,355.13 L243.00,355.15 L243.50,355.18 L244.00,355.20 L244.50,355.22 L245.00,355.25 L245.50,355.28 L246.00,355.31 L246.50,355.35 L247.00,355.38 L247.50,355.42 L248.00,355.46 L248.50,355.50 L249.00,355.54 L249.50,355.58 L250.00,355.63 L250.50,355.67 L251.00,355.72 L251.50,355.76 L252.00,355.81 L252.50,355.86 L253.00,355.91 L253.50,355.96 L254.00,356.00 L254.50,356.05 L255.00,356.10 L255.50,356.15 L256.00,356.20 L256.50,356.25 L257.00,356.30 L257.50,356.35 L258.00,356.40 L258.50,356.46 L259.00,356.51 L259.50,356.57 L260.00,356.62 L260.50,356.68 L261.00,356.74 L261.50,356.80 L262.00,356.86 L262.50,356.92 L263.00,356.98 L263.50,357.04 L264.00,357.10 L264.50,357.16 L265.00,357.22 L265.50,357.29 L266.00,357.35 L266.50,357.41 L267.00,357.47 L267.50,357.54 L268.00,357.60 L268.50,357.66 L269.00,357.73 L269.50,357.79 L270.00,357.86 L270.50,357.92 L271.00,357.99 L271.50,358.05 L272.00,358.12 L272.50,358.19 L273.00,358.26 L273.50,358.32 L274.00,358.39 L274.50,358.46 L275.00,358.53 L275.50,358.60 L276.00,358.67 L276.50,358.74 L277.00,358.81 L277.50,358.88 L278.00,358.96 L278.30,359.00" fill="none" stroke="#0000ff" stroke-width="1.6" stroke-linejoin="round" stroke-linecap="butt"/>
<path d="M252.30,348.30 L253.30,348.19 L254.30,348.08 L255.30,347.97 L256.30,347.86 L257.30,347.75 L258.30,347.64 L259.30,347.53 L260.30,347.42 L261.30,347.31 L262.30,347.20 L263.30,347.09 L264.30,346.98 L265.30,346.87 L266.30,346.76 L267.30,346.65 L268.30,346.54 L269.30,346.43 L270.30,346.32 L271.30,346.21 L272.30,346.10 L273.30,345.99 L274.30,345.88 L275.30,345.77 L276.30,345.66 L277.30,345.55 L278.30,345.44 L279.30,345.37 L280.30,345.30 L281.30,345.23 L282.30,345.16 L283.30,345.09 L284.30,345.02 L285.30,344.95 L286.30,344.88 L287.30,344.81 L288.30,344.74 L289.30,344.67 L290.30,344.60 L291.30,344.53 L292.30,344.46 L293.30,344.39 L294.30,344.32 L295.30,344.25 L296.30,344.18 L297.30,344.11 L298.30,344.03 L299.30,343.96 L300.30,343.89 L301.30,343.82 L302.30,343.75 L303.30,343.68 L304.30,343.61 L305.30,343.54 L306.30,343.47 L307.30,343.40 L308.30,343.33 L309.30,343.26 L310.30,343.19 L311.30,343.12 L312.30,343.05 L313.30,342.98 L314.30,342.91 L315.30,342.84 L316.30,342.77 L317.30,342.70 L318.30,342.63 L319.30,342.56 L320.30,342.49 L321.30,342.42 L322.30,342.34 L323.30,342.27 L324.30,342.20 L325.30,342.13 L326.30,342.06 L327.30,341.99 L328.30,341.92 L329.30,341.85 L330.30,341.78 L331.30,341.71 L332.30,341.64 L333.30,341.57 L334.30,341.50 L335.30,341.43 L336.30,341.36 L337.30,341.29 L338.30,341.22 L339.30,341.15 L340.30,341.08 L341.30,341.01 L342.30,340.94 L343.30,340.87 L344.30,340.80 L345.30,340.73 L346.30,340.65 L347.30,340.58 L348.30,340.51 L349.30,340.44 L350.30,340.37 L351.30,340.30 L352.30,340.23 L353.30,340.16 L354.30,340.09 L355.30,340.02 L356.30,339.95 L357.30,339.88 L358.30,339.81 L359.30,339.74 L360.30,339.67 L361.30,339.60 L362.30,339.53 L363.30,339.46 L364.30,339.39 L365.30,339.32 L366.30,339.25 L367.30,339.18 L368.30,339.11 L369.30,339.04 L370.30,338.96 L371.30,338.89 L372.30,338.82 L373.30,338.75 L374.30,338.68 L375.30,338.61 L376.30,338.54 L377.30,338.47 L378.30,338.40 L379.30,338.33 L380.30,338.26 L381.30,338.19 L382.30,338.12 L383.30,338.05 L384.00,338.00 L384.00,365.20 L383.30,365.24 L382.30,365.29 L381.30,365.34 L380.30,365.39 L379.30,365.44 L378.30,365.49 L377.30,365.54 L376.30,365.59 L375.30,365.64 L374.30,365.69 L373.30,365.74 L372.30,365.79 L371.30,365.84 L370.30,365.89 L369.30,365.94 L368.30,366.00 L367.30,366.05 L366.30,366.10 L365.30,366.15 L364.30,366.20 L363.30,366.25 L362.30,366.30 L361.30,366.35 L360.30,366.40 L359.30,366.45 L358.30,366.50 L357.30,366.55 L356.30,366.60 L355.30,366.65 L354.30,366.71 L353.30,366.76 L352.30,366.81 L351.30,366.86 L350.30,366.91 L349.30,366.96 L348.30,367.01 L347.30,367.06 L346.30,367.11 L345.30,367.16 L344.30,367.21 L343.30,367.26 L342.30,367.31 L341.30,367.36 L340.30,367.41 L339.30,367.47 L338.30,367.52 L337.30,367.57 L336.30,367.62 L335.30,367.67 L334.30,367.72 L333.30,367.77 L332.30,367.82 L331.30,367.87 L330.30,367.92 L329.30,367.97 L328.30,368.02 L327.30,368.07 L326.30,368.12 L325.30,368.17 L324.30,368.23 L323.30,368.28 L322.30,368.33 L321.30,368.38 L320.30,368.43 L319.30,368.48 L318.30,368.53 L317.30,368.58 L316.30,368.63 L315.30,368.68 L314.30,368.73 L313.30,368.78 L312.30,368.83 L311.30,368.88 L310.30,368.93 L309.30,368.99 L308.30,369.04 L307.30,369.09 L306.30,369.14 L305.30,369.19 L304.30,369.24 L303.30,369.29 L302.30,369.34 L301.30,369.39 L300.30,369.44 L299.30,369.49 L298.30,369.54 L297.30,369.59 L296.30,369.64 L295.30,369.70 L294.30,369.75 L293.30,369.80 L292.30,369.85 L291.30,369.90 L290.30,369.95 L289.30,370.00 L288.30,370.05 L287.30,370.10 L286.30,370.15 L285.30,370.20 L284.30,370.25 L283.30,370.30 L282.30,370.35 L281.30,370.40 L280.30,370.46 L279.30,370.51 L278.30,370.56 L277.30,370.65 L276.30,370.74 L275.30,370.83 L274.30,370.92 L273.30,371.01 L272.30,371.10 L271.30,371.19 L270.30,371.28 L269.30,371.37 L268.30,371.46 L267.30,371.55 L266.30,371.64 L265.30,371.73 L264.30,371.82 L263.30,371.91 L262.30,372.00 L261.30,372.09 L260.30,372.18 L259.30,372.27 L258.30,372.36 L257.30,372.45 L256.30,372.54 L255.30,372.63 L254.30,372.72 L253.30,372.81 L252.30,372.90Z" fill="#ff0000" fill-opacity="0.3"/>
<path d="M252.30,360.60 L253.30,360.50 L254.30,360.40 L255.30,360.30 L256.30,360.20 L257.30,360.10 L258.30,360.00 L259.30,359.90 L260.30,359.80 L261.30,359.70 L262.30,359.60 L263.30,359.50 L264.30,359.40 L265.30,359.30 L266.30,359.20 L267.30,359.10 L268.30,359.00 L269.30,358.90 L270.30,358.80 L271.30,358.70 L272.30,358.60 L273.30,358.50 L274.30,358.40 L275.30,358.30 L276.30,358.20 L277.30,358.10 L278.30,358.00 L279.30,357.94 L280.30,357.88 L281.30,357.82 L282.30,357.76 L283.30,357.70 L284.30,357.64 L285.30,357.58 L286.30,357.52 L287.30,357.46 L288.30,357.39 L289.30,357.33 L290.30,357.27 L291.30,357.21 L292.30,357.15 L293.30,357.09 L294.30,357.03 L295.30,356.97 L296.30,356.91 L297.30,356.85 L298.30,356.79 L299.30,356.73 L300.30,356.67 L301.30,356.61 L302.30,356.55 L303.30,356.49 L304.30,356.43 L305.30,356.37 L306.30,356.30 L307.30,356.24 L308.30,356.18 L309.30,356.12 L310.30,356.06 L311.30,356.00 L312.30,355.94 L313.30,355.88 L314.30,355.82 L315.30,355.76 L316.30,355.70 L317.30,355.64 L318.30,355.58 L319.30,355.52 L320.30,355.46 L321.30,355.40 L322.30,355.34 L323.30,355.28 L324.30,355.21 L325.30,355.15 L326.30,355.09 L327.30,355.03 L328.30,354.97 L329.30,354.91 L330.30,354.85 L331.30,354.79 L332.30,354.73 L333.30,354.67 L334.30,354.61 L335.30,354.55 L336.30,354.49 L337.30,354.43 L338.30,354.37 L339.30,354.31 L340.30,354.25 L341.30,354.19 L342.30,354.12 L343.30,354.06 L344.30,354.00 L345.30,353.94 L346.30,353.88 L347.30,353.82 L348.30,353.76 L349.30,353.70 L350.30,353.64 L351.30,353.58 L352.30,353.52 L353.30,353.46 L354.30,353.40 L355.30,353.34 L356.30,353.28 L357.30,353.22 L358.30,353.16 L359.30,353.10 L360.30,353.04 L361.30,352.97 L362.30,352.91 L363.30,352.85 L364.30,352.79 L365.30,352.73 L366.30,352.67 L367.30,352.61 L368.30,352.55 L369.30,352.49 L370.30,352.43 L371.30,352.37 L372.30,352.31 L373.30,352.25 L374.30,352.19 L375.30,352.13 L376.30,352.07 L377.30,352.01 L378.30,351.95 L379.30,351.88 L380.30,351.82 L381.30,351.76 L382.30,351.70 L383.30,351.64 L384.00,351.60" fill="none" stroke="#ff0000" stroke-width="1.6" stroke-dasharray="8.6,7.9"/>
<line x1="278.67" y1="268.55" x2="278.67" y2="464.9" stroke="#000" stroke-width="1.45" stroke-dasharray="4.15,1.595" stroke-dashoffset="1.2"/>
<path d="M81.17,464.9v-2.4 M81.17,269.95v2.4 M94.33,464.9v-3.8 M94.33,269.95v3.8 M107.50,464.9v-2.4 M107.50,269.95v2.4 M120.67,464.9v-2.4 M120.67,269.95v2.4 M133.83,464.9v-2.4 M133.83,269.95v2.4 M147.00,464.9v-3.8 M147.00,269.95v3.8 M160.17,464.9v-2.4 M160.17,269.95v2.4 M173.33,464.9v-2.4 M173.33,269.95v2.4 M186.50,464.9v-2.4 M186.50,269.95v2.4 M199.67,464.9v-3.8 M199.67,269.95v3.8 M212.83,464.9v-2.4 M212.83,269.95v2.4 M226.00,464.9v-2.4 M226.00,269.95v2.4 M239.17,464.9v-2.4 M239.17,269.95v2.4 M252.33,464.9v-3.8 M252.33,269.95v3.8 M265.50,464.9v-2.4 M265.50,269.95v2.4 M278.67,464.9v-2.4 M278.67,269.95v2.4 M291.83,464.9v-2.4 M291.83,269.95v2.4 M305.00,464.9v-3.8 M305.00,269.95v3.8 M318.17,464.9v-2.4 M318.17,269.95v2.4 M331.33,464.9v-2.4 M331.33,269.95v2.4 M344.50,464.9v-2.4 M344.50,269.95v2.4 M357.67,464.9v-3.8 M357.67,269.95v3.8 M370.83,464.9v-2.4 M370.83,269.95v2.4 M68.0,457.10h2.4 M384.0,457.10h-2.4 M68.0,449.30h2.4 M384.0,449.30h-2.4 M68.0,441.51h2.4 M384.0,441.51h-2.4 M68.0,433.71h2.4 M384.0,433.71h-2.4 M68.0,425.91h3.8 M384.0,425.91h-3.8 M68.0,418.11h2.4 M384.0,418.11h-2.4 M68.0,410.31h2.4 M384.0,410.31h-2.4 M68.0,402.52h2.4 M384.0,402.52h-2.4 M68.0,394.72h2.4 M384.0,394.72h-2.4 M68.0,386.92h3.8 M384.0,386.92h-3.8 M68.0,379.12h2.4 M384.0,379.12h-2.4 M68.0,371.32h2.4 M384.0,371.32h-2.4 M68.0,363.53h2.4 M384.0,363.53h-2.4 M68.0,355.73h2.4 M384.0,355.73h-2.4 M68.0,347.93h3.8 M384.0,347.93h-3.8 M68.0,340.13h2.4 M384.0,340.13h-2.4 M68.0,332.33h2.4 M384.0,332.33h-2.4 M68.0,324.54h2.4 M384.0,324.54h-2.4 M68.0,316.74h2.4 M384.0,316.74h-2.4 M68.0,308.94h3.8 M384.0,308.94h-3.8 M68.0,301.14h2.4 M384.0,301.14h-2.4 M68.0,293.34h2.4 M384.0,293.34h-2.4 M68.0,285.55h2.4 M384.0,285.55h-2.4 M68.0,277.75h2.4 M384.0,277.75h-2.4" stroke="#000" stroke-width="1" fill="none"/>
<rect x="68.0" y="269.95" width="316.0" height="194.95" fill="none" stroke="#000" stroke-width="1"/>
<rect x="84.40" y="279.85" width="152.2" height="31.0" fill="#fff" stroke="#d8d8d8" stroke-width="1"/>
<path d="M490.40,463.70 L493.60,455.60 L495.00,448.56 L496.00,439.53 L497.40,432.49 L498.60,429.05 L499.80,431.42 L501.00,435.38 L503.60,440.30 L506.40,441.22 L510.00,439.11 L513.60,433.00 L515.40,423.95 L517.00,413.90 L518.40,409.53 L519.60,407.22 L520.80,411.90 L522.40,417.48 L525.40,420.33 L529.00,415.15 L532.40,407.59 L534.20,403.29 L535.60,401.47 L539.60,400.86 L540.50,400.36 L541.00,399.87 L541.50,399.24 L542.00,398.54 L542.50,397.78 L543.00,397.02 L543.50,396.26 L544.00,395.56 L544.50,394.88 L545.00,394.15 L545.50,393.40 L546.00,392.64 L546.50,391.86 L547.00,391.09 L547.50,390.32 L548.00,389.57 L548.50,388.85 L549.00,388.17 L549.50,387.50 L550.00,386.84 L550.50,386.17 L551.00,385.52 L551.50,384.88 L552.00,384.27 L552.50,383.68 L553.00,383.14 L553.50,382.63 L554.00,382.17 L554.50,381.75 L555.00,381.34 L555.50,380.95 L556.00,380.57 L556.50,380.22 L557.00,379.88 L557.50,379.57 L558.00,379.28 L558.50,379.02 L559.00,378.78 L559.50,378.56 L560.00,378.36 L560.50,378.12 L561.00,377.88 L561.50,377.66 L562.00,377.45 L562.50,377.24 L563.00,377.03 L563.50,376.83 L564.00,376.64 L564.50,376.44 L565.00,376.25 L565.50,376.05 L566.00,375.85 L566.50,375.65 L567.00,375.46 L567.50,375.27 L568.00,375.09 L568.50,374.90 L569.00,374.72 L569.50,374.54 L570.00,374.36 L570.50,374.18 L571.00,374.00 L571.50,373.82 L572.00,373.63 L572.50,373.49 L573.00,373.34 L573.50,373.19 L574.00,373.03 L574.50,372.87 L575.00,372.70 L575.50,372.53 L576.00,372.36 L576.50,372.18 L577.00,372.00 L577.50,371.81 L578.00,371.62 L578.50,371.43 L579.00,371.24 L579.50,371.04 L580.00,370.84 L580.50,370.64 L581.00,370.44 L581.50,370.24 L582.00,370.03 L582.50,369.83 L583.00,369.62 L583.50,369.41 L584.00,369.20 L584.50,369.01 L585.00,368.81 L585.50,368.61 L586.00,368.41 L586.50,368.20 L587.00,367.99 L587.50,367.78 L588.00,367.56 L588.50,367.34 L589.00,367.12 L589.50,366.90 L590.00,366.68 L590.50,366.46 L591.00,366.24 L591.50,366.02 L592.00,365.80 L592.50,365.58 L593.00,365.36 L593.50,365.14 L594.00,364.93 L594.50,364.71 L595.00,364.51 L595.50,364.30 L596.00,364.10 L596.50,363.91 L597.00,363.71 L597.50,363.52 L598.00,363.32 L598.50,363.13 L599.00,362.94 L599.50,362.75 L600.00,362.56 L600.50,362.37 L601.00,362.18 L601.50,362.00 L602.00,361.81 L602.50,361.63 L603.00,361.44 L603.50,361.26 L604.00,361.08 L604.50,360.90 L605.00,360.72 L605.50,360.55 L606.00,360.38 L606.50,360.20 L607.00,360.03 L607.50,359.87 L608.00,359.70 L608.50,359.53 L609.00,359.36 L609.50,359.19 L610.00,359.03 L610.50,358.86 L611.00,358.69 L611.50,358.53 L612.00,358.36 L612.50,358.20 L613.00,358.04 L613.50,357.88 L614.00,357.72 L614.50,357.57 L615.00,357.41 L615.50,357.26 L616.00,357.11 L616.50,356.96 L617.00,356.81 L617.50,356.67 L618.00,356.53 L618.50,356.39 L619.00,356.26 L619.50,356.13 L620.00,356.00 L620.50,355.87 L621.00,355.75 L621.50,355.63 L622.00,355.51 L622.50,355.39 L623.00,355.27 L623.50,355.15 L624.00,355.04 L624.50,354.92 L625.00,354.81 L625.50,354.70 L626.00,354.59 L626.50,354.49 L627.00,354.38 L627.50,354.28 L628.00,354.17 L628.50,354.07 L629.00,353.97 L629.50,353.87 L630.00,353.77 L630.50,353.68 L631.00,353.58 L631.50,353.49 L632.00,353.40 L632.50,353.31 L633.00,353.23 L633.50,353.14 L634.00,353.06 L634.50,352.98 L635.00,352.90 L635.50,352.82 L636.00,352.74 L636.50,352.66 L637.00,352.58 L637.50,352.50 L638.00,352.43 L638.50,352.35 L639.00,352.28 L639.50,352.21 L640.00,352.13 L640.50,352.06 L641.00,351.99 L641.50,351.93 L642.00,351.86 L642.50,351.79 L643.00,351.73 L643.50,351.66 L644.00,351.60 L644.50,351.55 L645.00,351.49 L645.50,351.44 L646.00,351.38 L646.50,351.33 L647.00,351.28 L647.50,351.22 L648.00,351.17 L648.50,351.12 L649.00,351.07 L649.50,351.02 L650.00,350.97 L650.50,350.92 L651.00,350.87 L651.50,350.83 L652.00,350.79 L652.50,350.74 L653.00,350.70 L653.50,350.66 L654.00,350.63 L654.50,350.59 L655.00,350.56 L655.50,350.53 L656.00,350.50 L656.50,350.47 L657.00,350.45 L657.50,350.42 L658.00,350.39 L658.50,350.37 L659.00,350.34 L659.50,350.31 L660.00,350.29 L660.50,350.26 L661.00,350.24 L661.50,350.22 L662.00,350.19 L662.50,350.17 L663.00,350.15 L663.50,350.13 L664.00,350.11 L664.50,350.09 L665.00,350.08 L665.50,350.06 L666.00,350.05 L666.50,350.03 L667.00,350.02 L667.50,350.01 L668.00,350.00 L668.50,350.00 L669.00,350.00 L669.50,350.00 L670.00,350.00 L670.50,350.00 L671.00,350.00 L671.50,350.00 L672.00,350.00 L672.50,350.00 L673.00,350.00 L673.50,350.00 L674.00,350.01 L674.50,350.01 L675.00,350.01 L675.50,350.02 L676.00,350.02 L676.50,350.02 L677.00,350.03 L677.50,350.03 L678.00,350.04 L678.50,350.04 L679.00,350.05 L679.50,350.05 L680.00,350.06 L680.50,350.06 L681.00,350.07 L681.50,350.08 L682.00,350.09 L682.50,350.11 L683.00,350.12 L683.50,350.14 L684.00,350.16 L684.50,350.18 L685.00,350.20 L685.50,350.23 L686.00,350.25 L686.50,350.28 L687.00,350.31 L687.50,350.34 L688.00,350.37 L688.50,350.40 L689.00,350.44 L689.50,350.47 L690.00,350.51 L690.50,350.54 L691.00,350.58 L691.50,350.62 L692.00,350.66 L692.50,350.70 L693.00,350.74 L693.50,350.78 L694.00,350.82 L694.50,350.87 L695.00,350.91 L695.50,350.96 L696.00,351.00 L696.00,376.20 L695.50,376.15 L695.00,376.10 L694.50,376.06 L694.00,376.01 L693.50,375.96 L693.00,375.92 L692.50,375.87 L692.00,375.83 L691.50,375.79 L691.00,375.74 L690.50,375.70 L690.00,375.66 L689.50,375.62 L689.00,375.59 L688.50,375.55 L688.00,375.51 L687.50,375.48 L687.00,375.45 L686.50,375.41 L686.00,375.38 L685.50,375.35 L685.00,375.33 L684.50,375.30 L684.00,375.28 L683.50,375.25 L683.00,375.23 L682.50,375.21 L682.00,375.19 L681.50,375.18 L681.00,375.16 L680.50,375.15 L680.00,375.14 L679.50,375.13 L679.00,375.13 L678.50,375.12 L678.00,375.11 L677.50,375.10 L677.00,375.09 L676.50,375.08 L676.00,375.08 L675.50,375.07 L675.00,375.06 L674.50,375.06 L674.00,375.05 L673.50,375.04 L673.00,375.04 L672.50,375.03 L672.00,375.03 L671.50,375.02 L671.00,375.02 L670.50,375.01 L670.00,375.01 L669.50,375.01 L669.00,375.00 L668.50,375.00 L668.00,375.00 L667.50,374.99 L667.00,374.99 L666.50,374.98 L666.00,374.98 L665.50,374.98 L665.00,374.98 L664.50,374.98 L664.00,374.98 L663.50,374.98 L663.00,374.98 L662.50,374.99 L662.00,374.99 L661.50,375.00 L661.00,375.01 L660.50,375.01 L660.00,375.02 L659.50,375.03 L659.00,375.04 L658.50,375.05 L658.00,375.06 L657.50,375.07 L657.00,375.08 L656.50,375.09 L656.00,375.10 L655.50,375.11 L655.00,375.13 L654.50,375.14 L654.00,375.16 L653.50,375.18 L653.00,375.20 L652.50,375.23 L652.00,375.25 L651.50,375.28 L651.00,375.31 L650.50,375.34 L650.00,375.37 L649.50,375.40 L649.00,375.44 L648.50,375.47 L648.00,375.50 L647.50,375.54 L647.00,375.58 L646.50,375.61 L646.00,375.65 L645.50,375.69 L645.00,375.73 L644.50,375.76 L644.00,375.80 L643.50,375.83 L643.00,375.86 L642.50,375.89 L642.00,375.92 L641.50,375.96 L641.00,375.99 L640.50,376.03 L640.00,376.07 L639.50,376.11 L639.00,376.15 L638.50,376.19 L638.00,376.23 L637.50,376.27 L637.00,376.31 L636.50,376.36 L636.00,376.40 L635.50,376.45 L635.00,376.50 L634.50,376.54 L634.00,376.59 L633.50,376.64 L633.00,376.70 L632.50,376.75 L632.00,376.80 L631.50,376.85 L631.00,376.90 L630.50,376.95 L630.00,377.01 L629.50,377.06 L629.00,377.12 L628.50,377.18 L628.00,377.24 L627.50,377.30 L627.00,377.36 L626.50,377.43 L626.00,377.49 L625.50,377.56 L625.00,377.63 L624.50,377.70 L624.00,377.77 L623.50,377.84 L623.00,377.92 L622.50,378.00 L622.00,378.07 L621.50,378.15 L621.00,378.23 L620.50,378.32 L620.00,378.40 L619.50,378.49 L619.00,378.58 L618.50,378.67 L618.00,378.76 L617.50,378.86 L617.00,378.96 L616.50,379.07 L616.00,379.18 L615.50,379.28 L615.00,379.39 L614.50,379.51 L614.00,379.62 L613.50,379.74 L613.00,379.86 L612.50,379.98 L612.00,380.10 L611.50,380.22 L611.00,380.34 L610.50,380.47 L610.00,380.59 L609.50,380.72 L609.00,380.85 L608.50,380.97 L608.00,381.10 L607.50,381.23 L607.00,381.37 L606.50,381.50 L606.00,381.64 L605.50,381.78 L605.00,381.92 L604.50,382.07 L604.00,382.21 L603.50,382.36 L603.00,382.51 L602.50,382.66 L602.00,382.81 L601.50,382.96 L601.00,383.12 L600.50,383.27 L600.00,383.43 L599.50,383.58 L599.00,383.74 L598.50,383.90 L598.00,384.06 L597.50,384.22 L597.00,384.38 L596.50,384.54 L596.00,384.70 L595.50,384.86 L595.00,385.02 L594.50,385.19 L594.00,385.36 L593.50,385.53 L593.00,385.71 L592.50,385.88 L592.00,386.06 L591.50,386.24 L591.00,386.42 L590.50,386.60 L590.00,386.78 L589.50,386.96 L589.00,387.14 L588.50,387.32 L588.00,387.49 L587.50,387.67 L587.00,387.84 L586.50,388.01 L586.00,388.18 L585.50,388.34 L585.00,388.50 L584.50,388.65 L584.00,388.80 L583.50,388.93 L583.00,389.05 L582.50,389.18 L582.00,389.30 L581.50,389.42 L581.00,389.54 L580.50,389.66 L580.00,389.78 L579.50,389.89 L579.00,390.00 L578.50,390.12 L578.00,390.22 L577.50,390.33 L577.00,390.43 L576.50,390.53 L576.00,390.62 L575.50,390.72 L575.00,390.80 L574.50,390.89 L574.00,390.97 L573.50,391.04 L573.00,391.11 L572.50,391.17 L572.00,391.23 L571.50,391.24 L571.00,391.25 L570.50,391.26 L570.00,391.26 L569.50,391.27 L569.00,391.27 L568.50,391.28 L568.00,391.29 L567.50,391.30 L567.00,391.31 L566.50,391.33 L566.00,391.35 L565.50,391.37 L565.00,391.40 L564.50,391.42 L564.00,391.44 L563.50,391.46 L563.00,391.48 L562.50,391.51 L562.00,391.55 L561.50,391.59 L561.00,391.63 L560.50,391.69 L560.00,391.76 L559.50,391.88 L559.00,392.02 L558.50,392.18 L558.00,392.36 L557.50,392.58 L557.00,392.81 L556.50,393.07 L556.00,393.34 L555.50,393.64 L555.00,393.95 L554.50,394.28 L554.00,394.63 L553.50,395.00 L553.00,395.43 L552.50,395.90 L552.00,396.40 L551.50,396.94 L551.00,397.50 L550.50,398.07 L550.00,398.66 L549.50,399.25 L549.00,399.83 L548.50,400.44 L548.00,401.08 L547.50,401.75 L547.00,402.43 L546.50,403.13 L546.00,403.83 L545.50,404.52 L545.00,405.19 L544.50,405.83 L544.00,406.44 L543.50,407.06 L543.00,407.73 L542.50,408.42 L542.00,409.09 L541.50,409.72 L541.00,410.27 L540.50,410.72 L539.60,411.14 L535.60,411.33 L534.20,412.71 L532.40,416.41 L529.00,422.85 L525.40,426.87 L522.40,422.52 L520.80,416.10 L519.60,410.78 L518.40,412.47 L517.00,416.10 L515.40,426.05 L513.60,435.00 L510.00,440.89 L506.40,442.78 L503.60,441.70 L501.00,436.62 L499.80,432.58 L498.60,430.15 L497.40,433.51 L496.00,440.47 L495.00,449.44 L493.60,456.40 L490.40,464.30Z" fill="#0000ff" fill-opacity="0.3"/>
<path d="M490.40,464.00 L493.60,456.00 L495.00,449.00 L496.00,440.00 L497.40,433.00 L498.60,429.60 L499.80,432.00 L501.00,436.00 L503.60,441.00 L506.40,442.00 L510.00,440.00 L513.60,434.00 L515.40,425.00 L517.00,415.00 L518.40,411.00 L519.60,409.00 L520.80,414.00 L522.40,420.00 L525.40,423.60 L529.00,419.00 L532.40,412.00 L534.20,408.00 L535.60,406.40 L539.60,406.00 L540.50,405.54 L541.00,405.07 L541.50,404.48 L542.00,403.81 L542.50,403.10 L543.00,402.37 L543.50,401.66 L544.00,401.00 L544.50,400.35 L545.00,399.67 L545.50,398.96 L546.00,398.23 L546.50,397.50 L547.00,396.76 L547.50,396.03 L548.00,395.32 L548.50,394.64 L549.00,394.00 L549.50,393.37 L550.00,392.75 L550.50,392.12 L551.00,391.51 L551.50,390.91 L552.00,390.34 L552.50,389.79 L553.00,389.28 L553.50,388.82 L554.00,388.40 L554.50,388.02 L555.00,387.65 L555.50,387.29 L556.00,386.96 L556.50,386.64 L557.00,386.35 L557.50,386.07 L558.00,385.82 L558.50,385.60 L559.00,385.40 L559.50,385.22 L560.00,385.06 L560.50,384.90 L561.00,384.76 L561.50,384.62 L562.00,384.50 L562.50,384.38 L563.00,384.26 L563.50,384.15 L564.00,384.04 L564.50,383.93 L565.00,383.82 L565.50,383.71 L566.00,383.60 L566.50,383.49 L567.00,383.38 L567.50,383.28 L568.00,383.19 L568.50,383.09 L569.00,383.00 L569.50,382.90 L570.00,382.81 L570.50,382.72 L571.00,382.63 L571.50,382.53 L572.00,382.43 L572.50,382.33 L573.00,382.23 L573.50,382.12 L574.00,382.00 L574.50,381.88 L575.00,381.75 L575.50,381.62 L576.00,381.49 L576.50,381.35 L577.00,381.21 L577.50,381.07 L578.00,380.92 L578.50,380.77 L579.00,380.62 L579.50,380.47 L580.00,380.31 L580.50,380.15 L581.00,379.99 L581.50,379.83 L582.00,379.67 L582.50,379.50 L583.00,379.33 L583.50,379.17 L584.00,379.00 L584.50,378.83 L585.00,378.65 L585.50,378.48 L586.00,378.29 L586.50,378.11 L587.00,377.92 L587.50,377.72 L588.00,377.53 L588.50,377.33 L589.00,377.13 L589.50,376.93 L590.00,376.73 L590.50,376.53 L591.00,376.33 L591.50,376.13 L592.00,375.93 L592.50,375.73 L593.00,375.53 L593.50,375.34 L594.00,375.14 L594.50,374.95 L595.00,374.76 L595.50,374.58 L596.00,374.40 L596.50,374.22 L597.00,374.04 L597.50,373.87 L598.00,373.69 L598.50,373.51 L599.00,373.34 L599.50,373.17 L600.00,372.99 L600.50,372.82 L601.00,372.65 L601.50,372.48 L602.00,372.31 L602.50,372.14 L603.00,371.98 L603.50,371.81 L604.00,371.65 L604.50,371.48 L605.00,371.32 L605.50,371.17 L606.00,371.01 L606.50,370.85 L607.00,370.70 L607.50,370.55 L608.00,370.40 L608.50,370.25 L609.00,370.10 L609.50,369.96 L610.00,369.81 L610.50,369.66 L611.00,369.52 L611.50,369.37 L612.00,369.23 L612.50,369.09 L613.00,368.95 L613.50,368.81 L614.00,368.67 L614.50,368.54 L615.00,368.40 L615.50,368.27 L616.00,368.14 L616.50,368.01 L617.00,367.89 L617.50,367.77 L618.00,367.65 L618.50,367.53 L619.00,367.42 L619.50,367.31 L620.00,367.20 L620.50,367.10 L621.00,366.99 L621.50,366.89 L622.00,366.79 L622.50,366.69 L623.00,366.59 L623.50,366.50 L624.00,366.40 L624.50,366.31 L625.00,366.22 L625.50,366.13 L626.00,366.04 L626.50,365.96 L627.00,365.87 L627.50,365.79 L628.00,365.71 L628.50,365.62 L629.00,365.55 L629.50,365.47 L630.00,365.39 L630.50,365.32 L631.00,365.24 L631.50,365.17 L632.00,365.10 L632.50,365.03 L633.00,364.96 L633.50,364.89 L634.00,364.83 L634.50,364.76 L635.00,364.70 L635.50,364.63 L636.00,364.57 L636.50,364.51 L637.00,364.45 L637.50,364.39 L638.00,364.33 L638.50,364.27 L639.00,364.21 L639.50,364.16 L640.00,364.10 L640.50,364.05 L641.00,363.99 L641.50,363.94 L642.00,363.89 L642.50,363.84 L643.00,363.79 L643.50,363.75 L644.00,363.70 L644.50,363.65 L645.00,363.61 L645.50,363.56 L646.00,363.52 L646.50,363.47 L647.00,363.43 L647.50,363.38 L648.00,363.34 L648.50,363.29 L649.00,363.25 L649.50,363.21 L650.00,363.17 L650.50,363.13 L651.00,363.09 L651.50,363.05 L652.00,363.02 L652.50,362.98 L653.00,362.95 L653.50,362.92 L654.00,362.89 L654.50,362.87 L655.00,362.84 L655.50,362.82 L656.00,362.80 L656.50,362.78 L657.00,362.76 L657.50,362.74 L658.00,362.73 L658.50,362.71 L659.00,362.69 L659.50,362.67 L660.00,362.66 L660.50,362.64 L661.00,362.62 L661.50,362.61 L662.00,362.59 L662.50,362.58 L663.00,362.57 L663.50,362.56 L664.00,362.54 L664.50,362.53 L665.00,362.53 L665.50,362.52 L666.00,362.51 L666.50,362.51 L667.00,362.50 L667.50,362.50 L668.00,362.50 L668.50,362.50 L669.00,362.50 L669.50,362.50 L670.00,362.50 L670.50,362.51 L671.00,362.51 L671.50,362.51 L672.00,362.51 L672.50,362.52 L673.00,362.52 L673.50,362.52 L674.00,362.53 L674.50,362.53 L675.00,362.54 L675.50,362.54 L676.00,362.55 L676.50,362.55 L677.00,362.56 L677.50,362.57 L678.00,362.57 L678.50,362.58 L679.00,362.59 L679.50,362.59 L680.00,362.60 L680.50,362.61 L681.00,362.62 L681.50,362.63 L682.00,362.64 L682.50,362.66 L683.00,362.68 L683.50,362.70 L684.00,362.72 L684.50,362.74 L685.00,362.77 L685.50,362.79 L686.00,362.82 L686.50,362.85 L687.00,362.88 L687.50,362.91 L688.00,362.94 L688.50,362.98 L689.00,363.01 L689.50,363.05 L690.00,363.08 L690.50,363.12 L691.00,363.16 L691.50,363.20 L692.00,363.24 L692.50,363.29 L693.00,363.33 L693.50,363.37 L694.00,363.42 L694.50,363.46 L695.00,363.51 L695.50,363.55 L696.00,363.60" fill="none" stroke="#0000ff" stroke-width="1.6" stroke-linejoin="round" stroke-linecap="butt"/>
<path d="M669.60,347.30 L670.60,347.16 L671.60,347.02 L672.60,346.88 L673.60,346.74 L674.60,346.60 L675.60,346.46 L676.60,346.32 L677.60,346.18 L678.60,346.04 L679.60,345.90 L680.60,345.76 L681.60,345.62 L682.60,345.48 L683.60,345.34 L684.60,345.20 L685.60,345.06 L686.60,344.92 L687.60,344.78 L688.60,344.64 L689.60,344.50 L690.60,344.36 L691.60,344.22 L692.60,344.08 L693.60,343.94 L694.60,343.80 L695.60,343.66 L696.60,343.54 L697.60,343.44 L698.60,343.34 L699.60,343.24 L700.60,343.14 L701.60,343.04 L702.60,342.94 L703.60,342.84 L704.60,342.74 L705.60,342.64 L706.60,342.55 L707.60,342.45 L708.60,342.35 L709.60,342.25 L710.60,342.15 L711.60,342.05 L712.60,341.95 L713.60,341.85 L714.60,341.75 L715.60,341.65 L716.60,341.55 L717.60,341.45 L718.60,341.35 L719.60,341.25 L720.60,341.15 L721.60,341.05 L722.60,340.95 L723.60,340.85 L724.60,340.75 L725.60,340.65 L726.60,340.55 L727.60,340.45 L728.60,340.36 L729.60,340.26 L730.60,340.16 L731.60,340.06 L732.60,339.96 L733.60,339.86 L734.60,339.76 L735.60,339.66 L736.60,339.56 L737.60,339.46 L738.60,339.36 L739.60,339.26 L740.60,339.16 L741.60,339.06 L742.60,338.96 L743.60,338.86 L744.60,338.76 L745.60,338.66 L746.60,338.56 L747.60,338.46 L748.60,338.36 L749.60,338.27 L750.60,338.17 L751.60,338.07 L752.60,337.97 L753.60,337.87 L754.60,337.77 L755.60,337.67 L756.60,337.57 L757.60,337.47 L758.60,337.37 L759.60,337.27 L760.60,337.17 L761.60,337.07 L762.60,336.97 L763.60,336.87 L764.60,336.77 L765.60,336.67 L766.60,336.57 L767.60,336.47 L768.60,336.37 L769.60,336.27 L770.60,336.18 L771.60,336.08 L772.60,335.98 L773.60,335.88 L774.60,335.78 L775.60,335.68 L776.60,335.58 L777.60,335.48 L778.60,335.38 L779.60,335.28 L780.60,335.18 L781.60,335.08 L782.60,334.98 L783.60,334.88 L784.60,334.78 L785.60,334.68 L786.60,334.58 L787.60,334.48 L788.60,334.38 L789.60,334.28 L790.60,334.18 L791.60,334.09 L792.60,333.99 L793.60,333.89 L794.60,333.79 L795.60,333.69 L796.60,333.59 L797.60,333.49 L798.60,333.39 L799.60,333.29 L800.60,333.19 L801.50,333.10 L801.50,368.10 L800.60,368.16 L799.60,368.24 L798.60,368.31 L797.60,368.38 L796.60,368.45 L795.60,368.52 L794.60,368.59 L793.60,368.66 L792.60,368.73 L791.60,368.80 L790.60,368.87 L789.60,368.95 L788.60,369.02 L787.60,369.09 L786.60,369.16 L785.60,369.23 L784.60,369.30 L783.60,369.37 L782.60,369.44 L781.60,369.51 L780.60,369.59 L779.60,369.66 L778.60,369.73 L777.60,369.80 L776.60,369.87 L775.60,369.94 L774.60,370.01 L773.60,370.08 L772.60,370.15 L771.60,370.23 L770.60,370.30 L769.60,370.37 L768.60,370.44 L767.60,370.51 L766.60,370.58 L765.60,370.65 L764.60,370.72 L763.60,370.79 L762.60,370.87 L761.60,370.94 L760.60,371.01 L759.60,371.08 L758.60,371.15 L757.60,371.22 L756.60,371.29 L755.60,371.36 L754.60,371.43 L753.60,371.51 L752.60,371.58 L751.60,371.65 L750.60,371.72 L749.60,371.79 L748.60,371.86 L747.60,371.93 L746.60,372.00 L745.60,372.07 L744.60,372.15 L743.60,372.22 L742.60,372.29 L741.60,372.36 L740.60,372.43 L739.60,372.50 L738.60,372.57 L737.60,372.64 L736.60,372.71 L735.60,372.78 L734.60,372.86 L733.60,372.93 L732.60,373.00 L731.60,373.07 L730.60,373.14 L729.60,373.21 L728.60,373.28 L727.60,373.35 L726.60,373.42 L725.60,373.50 L724.60,373.57 L723.60,373.64 L722.60,373.71 L721.60,373.78 L720.60,373.85 L719.60,373.92 L718.60,373.99 L717.60,374.06 L716.60,374.14 L715.60,374.21 L714.60,374.28 L713.60,374.35 L712.60,374.42 L711.60,374.49 L710.60,374.56 L709.60,374.63 L708.60,374.70 L707.60,374.78 L706.60,374.85 L705.60,374.92 L704.60,374.99 L703.60,375.06 L702.60,375.13 L701.60,375.20 L700.60,375.27 L699.60,375.34 L698.60,375.42 L697.60,375.49 L696.60,375.56 L695.60,375.63 L694.60,375.72 L693.60,375.81 L692.60,375.90 L691.60,375.98 L690.60,376.07 L689.60,376.16 L688.60,376.24 L687.60,376.33 L686.60,376.42 L685.60,376.51 L684.60,376.59 L683.60,376.68 L682.60,376.77 L681.60,376.85 L680.60,376.94 L679.60,377.03 L678.60,377.12 L677.60,377.20 L676.60,377.29 L675.60,377.38 L674.60,377.46 L673.60,377.55 L672.60,377.64 L671.60,377.73 L670.60,377.81 L669.60,377.90Z" fill="#ff0000" fill-opacity="0.3"/>
<path d="M669.60,362.60 L670.60,362.49 L671.60,362.37 L672.60,362.26 L673.60,362.15 L674.60,362.03 L675.60,361.92 L676.60,361.80 L677.60,361.69 L678.60,361.58 L679.60,361.46 L680.60,361.35 L681.60,361.24 L682.60,361.12 L683.60,361.01 L684.60,360.90 L685.60,360.78 L686.60,360.67 L687.60,360.55 L688.60,360.44 L689.60,360.33 L690.60,360.21 L691.60,360.10 L692.60,359.99 L693.60,359.87 L694.60,359.76 L695.60,359.65 L696.60,359.55 L697.60,359.46 L698.60,359.38 L699.60,359.29 L700.60,359.21 L701.60,359.12 L702.60,359.04 L703.60,358.95 L704.60,358.87 L705.60,358.78 L706.60,358.70 L707.60,358.61 L708.60,358.53 L709.60,358.44 L710.60,358.35 L711.60,358.27 L712.60,358.18 L713.60,358.10 L714.60,358.01 L715.60,357.93 L716.60,357.84 L717.60,357.76 L718.60,357.67 L719.60,357.59 L720.60,357.50 L721.60,357.42 L722.60,357.33 L723.60,357.25 L724.60,357.16 L725.60,357.07 L726.60,356.99 L727.60,356.90 L728.60,356.82 L729.60,356.73 L730.60,356.65 L731.60,356.56 L732.60,356.48 L733.60,356.39 L734.60,356.31 L735.60,356.22 L736.60,356.14 L737.60,356.05 L738.60,355.97 L739.60,355.88 L740.60,355.80 L741.60,355.71 L742.60,355.62 L743.60,355.54 L744.60,355.45 L745.60,355.37 L746.60,355.28 L747.60,355.20 L748.60,355.11 L749.60,355.03 L750.60,354.94 L751.60,354.86 L752.60,354.77 L753.60,354.69 L754.60,354.60 L755.60,354.52 L756.60,354.43 L757.60,354.35 L758.60,354.26 L759.60,354.17 L760.60,354.09 L761.60,354.00 L762.60,353.92 L763.60,353.83 L764.60,353.75 L765.60,353.66 L766.60,353.58 L767.60,353.49 L768.60,353.41 L769.60,353.32 L770.60,353.24 L771.60,353.15 L772.60,353.07 L773.60,352.98 L774.60,352.89 L775.60,352.81 L776.60,352.72 L777.60,352.64 L778.60,352.55 L779.60,352.47 L780.60,352.38 L781.60,352.30 L782.60,352.21 L783.60,352.13 L784.60,352.04 L785.60,351.96 L786.60,351.87 L787.60,351.79 L788.60,351.70 L789.60,351.62 L790.60,351.53 L791.60,351.44 L792.60,351.36 L793.60,351.27 L794.60,351.19 L795.60,351.10 L796.60,351.02 L797.60,350.93 L798.60,350.85 L799.60,350.76 L800.60,350.68 L801.50,350.60" fill="none" stroke="#ff0000" stroke-width="1.6" stroke-dasharray="8.6,7.9"/>
<line x1="696.20" y1="268.55" x2="696.20" y2="464.9" stroke="#000" stroke-width="1.45" stroke-dasharray="4.15,1.595" stroke-dashoffset="1.2"/>
<path d="M498.76,464.9v-2.4 M498.76,269.95v2.4 M511.93,464.9v-3.8 M511.93,269.95v3.8 M525.09,464.9v-2.4 M525.09,269.95v2.4 M538.25,464.9v-2.4 M538.25,269.95v2.4 M551.41,464.9v-2.4 M551.41,269.95v2.4 M564.58,464.9v-3.8 M564.58,269.95v3.8 M577.74,464.9v-2.4 M577.74,269.95v2.4 M590.90,464.9v-2.4 M590.90,269.95v2.4 M604.06,464.9v-2.4 M604.06,269.95v2.4 M617.23,464.9v-3.8 M617.23,269.95v3.8 M630.39,464.9v-2.4 M630.39,269.95v2.4 M643.55,464.9v-2.4 M643.55,269.95v2.4 M656.71,464.9v-2.4 M656.71,269.95v2.4 M669.88,464.9v-3.8 M669.88,269.95v3.8 M683.04,464.9v-2.4 M683.04,269.95v2.4 M696.20,464.9v-2.4 M696.20,269.95v2.4 M709.36,464.9v-2.4 M709.36,269.95v2.4 M722.52,464.9v-3.8 M722.52,269.95v3.8 M735.69,464.9v-2.4 M735.69,269.95v2.4 M748.85,464.9v-2.4 M748.85,269.95v2.4 M762.01,464.9v-2.4 M762.01,269.95v2.4 M775.17,464.9v-3.8 M775.17,269.95v3.8 M788.34,464.9v-2.4 M788.34,269.95v2.4 M485.6,457.10h2.4 M801.5,457.10h-2.4 M485.6,449.30h2.4 M801.5,449.30h-2.4 M485.6,441.51h2.4 M801.5,441.51h-2.4 M485.6,433.71h2.4 M801.5,433.71h-2.4 M485.6,425.91h3.8 M801.5,425.91h-3.8 M485.6,418.11h2.4 M801.5,418.11h-2.4 M485.6,410.31h2.4 M801.5,410.31h-2.4 M485.6,402.52h2.4 M801.5,402.52h-2.4 M485.6,394.72h2.4 M801.5,394.72h-2.4 M485.6,386.92h3.8 M801.5,386.92h-3.8 M485.6,379.12h2.4 M801.5,379.12h-2.4 M485.6,371.32h2.4 M801.5,371.32h-2.4 M485.6,363.53h2.4 M801.5,363.53h-2.4 M485.6,355.73h2.4 M801.5,355.73h-2.4 M485.6,347.93h3.8 M801.5,347.93h-3.8 M485.6,340.13h2.4 M801.5,340.13h-2.4 M485.6,332.33h2.4 M801.5,332.33h-2.4 M485.6,324.54h2.4 M801.5,324.54h-2.4 M485.6,316.74h2.4 M801.5,316.74h-2.4 M485.6,308.94h3.8 M801.5,308.94h-3.8 M485.6,301.14h2.4 M801.5,301.14h-2.4 M485.6,293.34h2.4 M801.5,293.34h-2.4 M485.6,285.55h2.4 M801.5,285.55h-2.4 M485.6,277.75h2.4 M801.5,277.75h-2.4" stroke="#000" stroke-width="1" fill="none"/>
<rect x="485.6" y="269.95" width="315.9" height="194.95" fill="none" stroke="#000" stroke-width="1"/>
<rect x="502.00" y="279.85" width="152.2" height="31.0" fill="#fff" stroke="#d8d8d8" stroke-width="1"/>
<g class="tx">
<text transform="translate(94.33,223.40) scale(1,1.05)" font-size="17.3" text-anchor="middle">2</text>
<text transform="translate(147.00,223.40) scale(1,1.05)" font-size="17.3" text-anchor="middle">4</text>
<text transform="translate(199.67,223.40) scale(1,1.05)" font-size="17.3" text-anchor="middle">6</text>
<text transform="translate(252.33,223.40) scale(1,1.05)" font-size="17.3" text-anchor="middle">8</text>
<text transform="translate(305.00,223.40) scale(1,1.05)" font-size="17.3" text-anchor="middle">10</text>
<text transform="translate(357.67,223.40) scale(1,1.05)" font-size="17.3" text-anchor="middle">12</text>
<text transform="translate(66.20,211.30) scale(1,1.05)" font-size="17.3" text-anchor="end">0.00</text>
<text transform="translate(66.20,162.58) scale(1,1.05)" font-size="17.3" text-anchor="end">0.05</text>
<text transform="translate(66.20,113.85) scale(1,1.05)" font-size="17.3" text-anchor="end">0.10</text>
<text transform="translate(66.20,65.12) scale(1,1.05)" font-size="17.3" text-anchor="end">0.15</text>
<text transform="translate(66.20,16.40) scale(1,1.05)" font-size="17.3" text-anchor="end">0.20</text>
<text transform="translate(226.20,247.60) scale(1,1.05)" font-size="17.3" text-anchor="middle"><tspan font-style="italic">W</tspan><tspan font-size="12.3" dy="-5.6" dx="0.3">2</tspan><tspan dy="5.6" dx="0.4"> (GeV</tspan><tspan font-size="12.3" dy="-5.6">2</tspan><tspan dy="5.6">)</tspan></text>
<text transform="translate(6.20,115.35) scale(1,1.05)" font-size="17.3" text-anchor="start" font-style="italic">F</text>
<text transform="translate(16.50,119.75) scale(1,1.05)" font-size="12.3" text-anchor="start">2</text>
<text transform="translate(17.10,105.75) scale(1,1.05)" font-size="12.3" text-anchor="start"><tspan font-style="italic" font-size="13">γ</tspan><tspan dx="0.9">Z</tspan></text>
<text transform="translate(83.80,43.40) scale(1,1.05)" font-size="20.3" text-anchor="start"><tspan font-style="italic">Q</tspan><tspan font-size="14.4" dy="-6.9">2</tspan><tspan dy="6.9" dx="0.9"> = </tspan><tspan>0.05 GeV</tspan><tspan font-size="14.4" dy="-6.9">2</tspan></text>
<text transform="translate(511.93,223.40) scale(1,1.05)" font-size="17.3" text-anchor="middle">2</text>
<text transform="translate(564.58,223.40) scale(1,1.05)" font-size="17.3" text-anchor="middle">4</text>
<text transform="translate(617.23,223.40) scale(1,1.05)" font-size="17.3" text-anchor="middle">6</text>
<text transform="translate(669.88,223.40) scale(1,1.05)" font-size="17.3" text-anchor="middle">8</text>
<text transform="translate(722.52,223.40) scale(1,1.05)" font-size="17.3" text-anchor="middle">10</text>
<text transform="translate(775.17,223.40) scale(1,1.05)" font-size="17.3" text-anchor="middle">12</text>
<text transform="translate(483.80,211.30) scale(1,1.05)" font-size="17.3" text-anchor="end">0.00</text>
<text transform="translate(483.80,172.32) scale(1,1.05)" font-size="17.3" text-anchor="end">0.10</text>
<text transform="translate(483.80,133.34) scale(1,1.05)" font-size="17.3" text-anchor="end">0.20</text>
<text transform="translate(483.80,94.36) scale(1,1.05)" font-size="17.3" text-anchor="end">0.30</text>
<text transform="translate(483.80,55.38) scale(1,1.05)" font-size="17.3" text-anchor="end">0.40</text>
<text transform="translate(483.80,16.40) scale(1,1.05)" font-size="17.3" text-anchor="end">0.50</text>
<text transform="translate(643.75,247.60) scale(1,1.05)" font-size="17.3" text-anchor="middle"><tspan font-style="italic">W</tspan><tspan font-size="12.3" dy="-5.6" dx="0.3">2</tspan><tspan dy="5.6" dx="0.4"> (GeV</tspan><tspan font-size="12.3" dy="-5.6">2</tspan><tspan dy="5.6">)</tspan></text>
<text transform="translate(423.80,115.35) scale(1,1.05)" font-size="17.3" text-anchor="start" font-style="italic">F</text>
<text transform="translate(434.10,119.75) scale(1,1.05)" font-size="12.3" text-anchor="start">2</text>
<text transform="translate(434.70,105.75) scale(1,1.05)" font-size="12.3" text-anchor="start"><tspan font-style="italic" font-size="13">γ</tspan><tspan dx="0.9">Z</tspan></text>
<text transform="translate(501.40,43.40) scale(1,1.05)" font-size="20.3" text-anchor="start"><tspan font-style="italic">Q</tspan><tspan font-size="14.4" dy="-6.9">2</tspan><tspan dy="6.9" dx="0.9"> = </tspan><tspan>0.5 GeV</tspan><tspan font-size="14.4" dy="-6.9">2</tspan></text>
<text transform="translate(94.33,482.90) scale(1,1.05)" font-size="17.3" text-anchor="middle">2</text>
<text transform="translate(147.00,482.90) scale(1,1.05)" font-size="17.3" text-anchor="middle">4</text>
<text transform="translate(199.67,482.90) scale(1,1.05)" font-size="17.3" text-anchor="middle">6</text>
<text transform="translate(252.33,482.90) scale(1,1.05)" font-size="17.3" text-anchor="middle">8</text>
<text transform="translate(305.00,482.90) scale(1,1.05)" font-size="17.3" text-anchor="middle">10</text>
<text transform="translate(357.67,482.90) scale(1,1.05)" font-size="17.3" text-anchor="middle">12</text>
<text transform="translate(66.20,470.80) scale(1,1.05)" font-size="17.3" text-anchor="end">0.00</text>
<text transform="translate(66.20,431.81) scale(1,1.05)" font-size="17.3" text-anchor="end">0.10</text>
<text transform="translate(66.20,392.82) scale(1,1.05)" font-size="17.3" text-anchor="end">0.20</text>
<text transform="translate(66.20,353.83) scale(1,1.05)" font-size="17.3" text-anchor="end">0.30</text>
<text transform="translate(66.20,314.84) scale(1,1.05)" font-size="17.3" text-anchor="end">0.40</text>
<text transform="translate(66.20,275.85) scale(1,1.05)" font-size="17.3" text-anchor="end">0.50</text>
<text transform="translate(226.20,507.10) scale(1,1.05)" font-size="17.3" text-anchor="middle"><tspan font-style="italic">W</tspan><tspan font-size="12.3" dy="-5.6" dx="0.3">2</tspan><tspan dy="5.6" dx="0.4"> (GeV</tspan><tspan font-size="12.3" dy="-5.6">2</tspan><tspan dy="5.6">)</tspan></text>
<text transform="translate(6.20,374.82) scale(1,1.05)" font-size="17.3" text-anchor="start" font-style="italic">F</text>
<text transform="translate(16.50,379.22) scale(1,1.05)" font-size="12.3" text-anchor="start">2</text>
<text transform="translate(17.10,365.22) scale(1,1.05)" font-size="12.3" text-anchor="start"><tspan font-style="italic" font-size="13">γ</tspan><tspan dx="0.9">Z</tspan></text>
<text transform="translate(83.80,302.85) scale(1,1.05)" font-size="20.3" text-anchor="start"><tspan font-style="italic">Q</tspan><tspan font-size="14.4" dy="-6.9">2</tspan><tspan dy="6.9" dx="0.9"> = </tspan><tspan>1.5 GeV</tspan><tspan font-size="14.4" dy="-6.9">2</tspan></text>
<text transform="translate(511.93,482.90) scale(1,1.05)" font-size="17.3" text-anchor="middle">2</text>
<text transform="translate(564.58,482.90) scale(1,1.05)" font-size="17.3" text-anchor="middle">4</text>
<text transform="translate(617.23,482.90) scale(1,1.05)" font-size="17.3" text-anchor="middle">6</text>
<text transform="translate(669.88,482.90) scale(1,1.05)" font-size="17.3" text-anchor="middle">8</text>
<text transform="translate(722.52,482.90) scale(1,1.05)" font-size="17.3" text-anchor="middle">10</text>
<text transform="translate(775.17,482.90) scale(1,1.05)" font-size="17.3" text-anchor="middle">12</text>
<text transform="translate(483.80,470.80) scale(1,1.05)" font-size="17.3" text-anchor="end">0.00</text>
<text transform="translate(483.80,431.81) scale(1,1.05)" font-size="17.3" text-anchor="end">0.10</text>
<text transform="translate(483.80,392.82) scale(1,1.05)" font-size="17.3" text-anchor="end">0.20</text>
<text transform="translate(483.80,353.83) scale(1,1.05)" font-size="17.3" text-anchor="end">0.30</text>
<text transform="translate(483.80,314.84) scale(1,1.05)" font-size="17.3" text-anchor="end">0.40</text>
<text transform="translate(483.80,275.85) scale(1,1.05)" font-size="17.3" text-anchor="end">0.50</text>
<text transform="translate(643.75,507.10) scale(1,1.05)" font-size="17.3" text-anchor="middle"><tspan font-style="italic">W</tspan><tspan font-size="12.3" dy="-5.6" dx="0.3">2</tspan><tspan dy="5.6" dx="0.4"> (GeV</tspan><tspan font-size="12.3" dy="-5.6">2</tspan><tspan dy="5.6">)</tspan></text>
<text transform="translate(423.80,374.82) scale(1,1.05)" font-size="17.3" text-anchor="start" font-style="italic">F</text>
<text transform="translate(434.10,379.22) scale(1,1.05)" font-size="12.3" text-anchor="start">2</text>
<text transform="translate(434.70,365.22) scale(1,1.05)" font-size="12.3" text-anchor="start"><tspan font-style="italic" font-size="13">γ</tspan><tspan dx="0.9">Z</tspan></text>
<text transform="translate(501.40,302.85) scale(1,1.05)" font-size="20.3" text-anchor="start"><tspan font-style="italic">Q</tspan><tspan font-size="14.4" dy="-6.9">2</tspan><tspan dy="6.9" dx="0.9"> = </tspan><tspan>2.0 GeV</tspan><tspan font-size="14.4" dy="-6.9">2</tspan></text>
</g>
</svg>
</body></html>
